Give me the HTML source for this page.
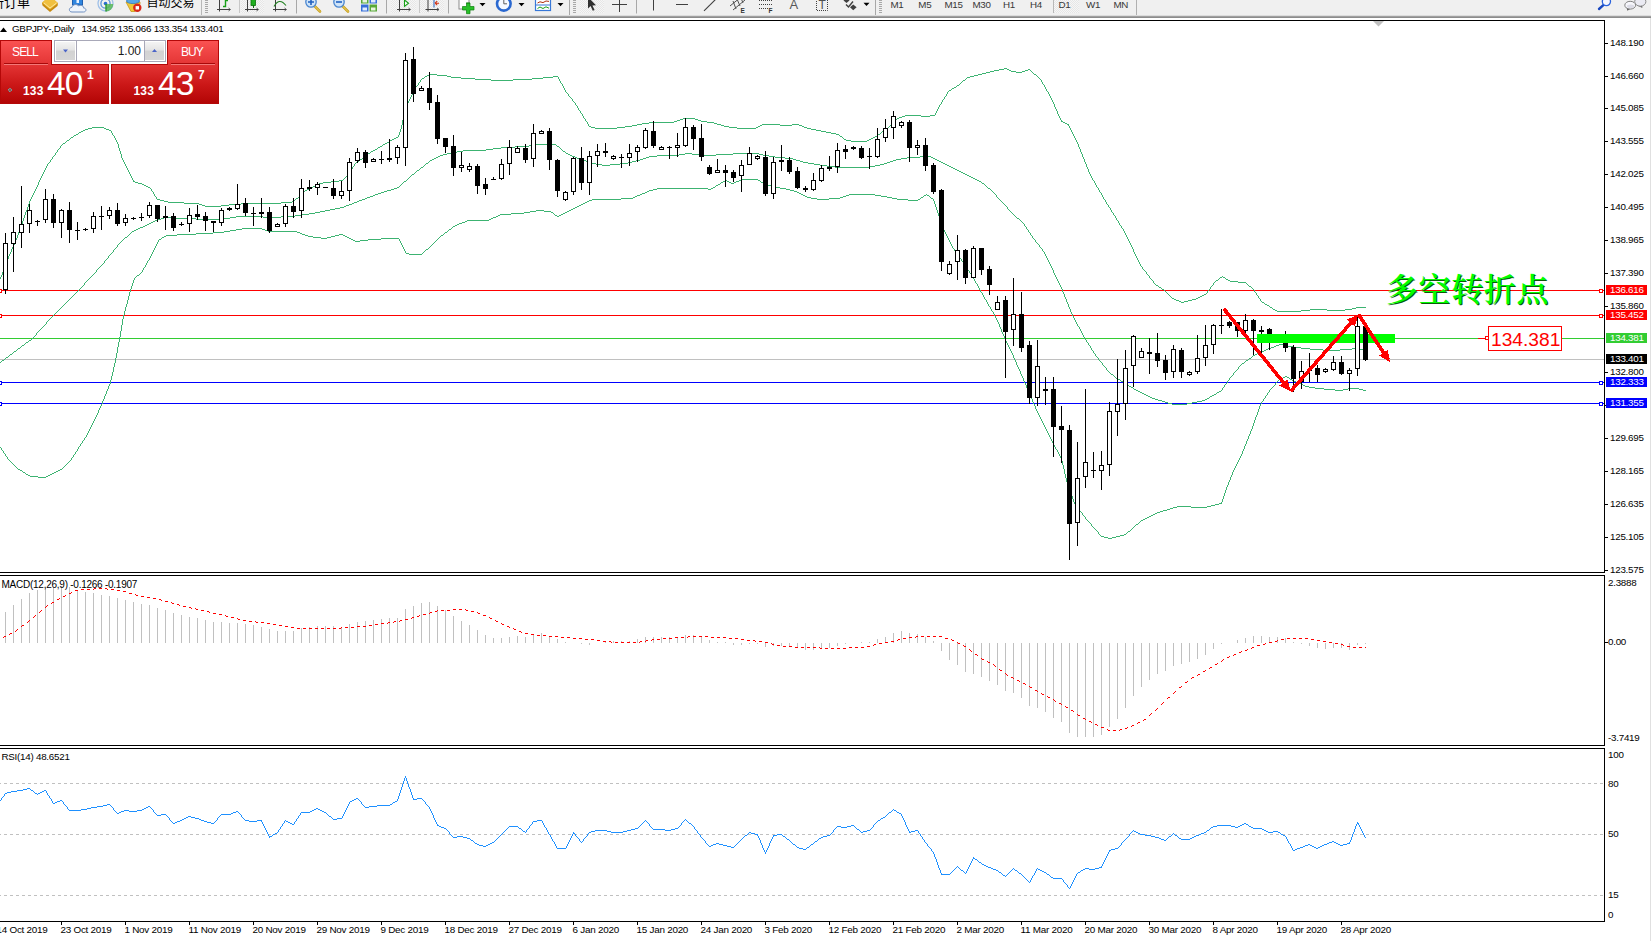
<!DOCTYPE html>
<html><head><meta charset="utf-8"><title>GBPJPY Daily</title>
<style>
html,body{margin:0;padding:0;background:#fff;overflow:hidden}
body{width:1651px;height:941px;position:relative;font-family:"Liberation Sans","Noto Sans CJK SC",sans-serif}
svg{position:absolute;left:0;top:0}
svg text{font-family:"Liberation Sans","Noto Sans CJK SC",sans-serif}
.ax{letter-spacing:-0.25px}
#tb{position:absolute;left:0;top:0;width:1651px;height:15px;background:#f0f0f0;overflow:hidden}
#tbl1{position:absolute;left:0;top:15px;width:1651px;height:3px;background:linear-gradient(#dcdcdc 0,#dcdcdc 33%,#a0a0a0 33%,#a0a0a0 67%,#8c8c8c 67%)}
#tbl2{position:absolute;left:1650px;top:18px;width:1px;height:923px;background:#e0e0e0}
#cn{position:absolute;left:1386px;top:267px;font-family:"Noto Serif CJK SC","Noto Sans CJK SC",serif;font-weight:600;font-size:32px;line-height:40px;color:#00ff00;text-shadow:1px 1px 0 #0a5a0a;white-space:nowrap;letter-spacing:0.6px}
#pn{position:absolute;left:0;top:40px;width:220px;height:65px}
#pn div{position:absolute;box-sizing:border-box}
.rt{background:linear-gradient(#fa5252,#e33434);border:1px solid #b40808;border-bottom:none;height:25px;top:0;width:52px;color:#fff;font-size:12px;letter-spacing:-0.9px;text-align:center;line-height:22px;text-indent:-2px}
.rb{background:linear-gradient(#e33434,#cc1818 50%,#b30505);border:1px solid #b40808;top:24px;height:40px;width:109px;color:#fff}
.ul{height:2px;top:23px;width:44px;background:linear-gradient(#a80808 50%,#f47878 50%)}
.s3{font-weight:bold;font-size:12px;top:20px;line-height:14px;letter-spacing:0.2px}
.bg{font-size:33.5px;top:2px;line-height:36px;letter-spacing:-1px}
.sp{font-weight:bold;font-size:12px;top:4px;line-height:14px}
#vol{left:54px;top:0;width:112px;height:22px;border:1px solid #a8a8b8;background:#fff}
.vb{top:1px;width:19px;height:18px;background:linear-gradient(#f4f4f4,#e4e4e4 45%,#d2d2d2 50%,#d6d6d6)}
.vs{top:0;width:1px;height:20px;background:#a8a8b8}
#vt{left:22px;top:0;width:64px;height:20px;text-align:right;font-size:12px;line-height:21px;color:#1a1a1a}

</style></head><body>
<svg width="1651" height="941" viewBox="0 0 1651 941" shape-rendering="crispEdges">
<rect x="0" y="359" width="1604" height="1" fill="#c0c0c0"/>
<rect x="0" y="290" width="1604" height="1" fill="#ff0000"/>
<rect x="0" y="315" width="1604" height="1" fill="#ff0000"/>
<rect x="0" y="338" width="1604" height="1" fill="#32cd32"/>
<rect x="0" y="382" width="1604" height="1" fill="#0000ff"/>
<rect x="0" y="403" width="1604" height="1" fill="#0000ff"/>
<path d="M412.5 93v2M1085.5 162v2M1086.5 164v3M398.5 135v2M1053.5 102v2M1126.5 235v2M1129.5 241v2M1050.5 96v2M1092.5 178v2M585.5 119v2M131.5 176v2M1096.5 185v2M403.5 115v5M3.5 269v3M559.5 79v2M1118.5 221v2M1042.5 82v2M120.5 151v3M23.5 218v3M406.5 106v2M30.5 199v2M127.5 168v2M1142.5 267v2M1106.5 202v2M27.5 207v3M401.5 125v4M2.5 272v3M1127.5 237v2M1051.5 98v2M1128.5 239v2M1052.5 100v2M405.5 108v3M1094.5 181v2M10.5 252v2M418.5 83v2M133.5 180v2M1058.5 114v2M1098.5 188v2M1135.5 254v2M1059.5 116v2M112.5 133v2M115.5 138v2M26.5 210v2M1116.5 218v2M1044.5 85v2M1041.5 80v2M34.5 191v2M46.5 166v2M119.5 148v3M1087.5 167v2M404.5 111v4M126.5 166v2M944.5 97v2M17.5 235v3M25.5 212v3M400.5 129v3M936.5 111v2M33.5 193v2M45.5 168v2M572.5 99v2M575.5 103v2M1136.5 256v2M1057.5 111v3M1133.5 249v3M29.5 201v3M1075.5 138v2M16.5 238v2M114.5 136v2M1082.5 154v3M124.5 162v2M935.5 113v2M44.5 170v2M20.5 227v2M1146.5 272v2M402.5 120v5M577.5 106v2M156.5 197v2M19.5 229v3M946.5 94v2M1080.5 149v3M1081.5 152v2M9.5 254v2M1213.5 283v2M583.5 116v2M587.5 122v2M1095.5 183v2M413.5 91v2M1149.5 276v2M6.5 261v3M37.5 185v2M50.5 160v2M941.5 102v2M1105.5 200v2M1108.5 205v2M5.5 264v3M13.5 245v2M408.5 101v2M1054.5 104v3M349.5 172v2M1068.5 124v2M1061.5 120v2M41.5 176v2M560.5 81v2M563.5 86v2M121.5 154v4M1046.5 89v2M12.5 247v2M407.5 103v3M352.5 167v2M1089.5 172v2M128.5 170v2M40.5 178v2M1110.5 208v2M1060.5 118v2M55.5 153v2M1153.5 281v2M1077.5 142v2M1074.5 136v2M116.5 140v2M1124.5 231v2M1084.5 159v3M1088.5 169v3M130.5 174v2M354.5 164v2M1137.5 258v2M1254.5 290v2M1076.5 140v2M1119.5 223v2M28.5 204v3M11.5 249v3M60.5 146v2M578.5 108v2M1256.5 293v2M1260.5 299v2M939.5 105v2M1056.5 109v2M18.5 232v3M414.5 89v2M588.5 124v2M1070.5 128v2M1210.5 287v2M1099.5 190v2M562.5 84v2M565.5 90v2M580.5 111v2M1130.5 243v2M1069.5 126v2M1101.5 193v2M4.5 267v2M1079.5 147v2M118.5 144v4M564.5 88v2M1083.5 157v2M1090.5 174v2M8.5 256v3M1111.5 210v2M36.5 187v2M1132.5 247v2M1139.5 262v2M1103.5 197v2M415.5 87v2M1078.5 144v3M117.5 142v2M411.5 95v2M35.5 189v2M1121.5 226v2M1045.5 87v2M1091.5 176v2M1113.5 213v2M22.5 221v3M1138.5 260v2M1258.5 296v2M1123.5 229v2M21.5 224v3M129.5 172v2M151.5 189v2M1072.5 132v2M111.5 131v2M1115.5 216v2M0.5 277v2M420.5 80v2M947.5 92v2M24.5 215v3M399.5 132v3M32.5 195v2M153.5 192v2M7.5 259v2M1071.5 130v2M942.5 100v2M15.5 240v2M938.5 107v2M47.5 164v2M123.5 160v2M31.5 197v2M43.5 172v2M409.5 99v2M14.5 242v3M558.5 77v2M937.5 109v2M1131.5 245v2M1055.5 107v2M42.5 174v2M1102.5 195v2M38.5 182v3M568.5 94v2M1.5 275v2M582.5 114v2M132.5 178v2M1140.5 264v2M1207.5 291v2M52.5 157v2M1125.5 233v2M1049.5 94v2M410.5 97v2M351.5 169v2M39.5 180v2M1048.5 92v2M1134.5 252v2M1073.5 134v2M125.5 164v2M122.5 158v2M57.5 150v2M154.5 194v2M184 203.5h15M241 203.5h40M148 187.5h2M311 187.5h2M1097 187.5h1M71 137.5h2M396 137.5h2M842 137.5h1M873 137.5h2M344 178.5h1M88 128.5h4M104 128.5h2M595 128.5h22M737 128.5h19M807 128.5h4M886 128.5h2M990 71.5h4M1011 71.5h5M1022 71.5h3M1031 71.5h1M146 186.5h2M313 186.5h2M424 77.5h1M451 77.5h10M543 77.5h10M967 77.5h3M1038 77.5h1M905 115.5h16M930 115.5h5M586 121.5h1M674 121.5h3M701 121.5h6M894 121.5h1M1062 121.5h1M421 79.5h1M475 79.5h16M513 79.5h19M965 79.5h1M1040 79.5h1M92 127.5h12M591 127.5h4M617 127.5h8M729 127.5h8M756 127.5h2M804 127.5h3M888 127.5h1M589 126.5h2M625 126.5h7M724 126.5h5M758 126.5h2M802 126.5h2M889 126.5h1M637 124.5h5M717 124.5h4M762 124.5h18M792 124.5h7M891 124.5h1M1067 124.5h1M948 91.5h1M1047 91.5h1M1275 310.5h2M1301 310.5h9M1327 310.5h18M76 134.5h2M836 134.5h3M878 134.5h2M380 146.5h2M429 74.5h8M978 74.5h4M1034 74.5h2M1220 277.5h2M1223 277.5h2M371 151.5h2M1277 311.5h24M339 180.5h4M1093 180.5h1M632 125.5h5M721 125.5h3M760 125.5h2M780 125.5h12M799 125.5h3M890 125.5h1M1151 279.5h1M1218 279.5h1M1226 279.5h2M205 206.5h16M649 122.5h25M707 122.5h7M893 122.5h1M1063 122.5h2M66 141.5h1M389 141.5h1M851 141.5h16M81 131.5h2M821 131.5h5M882 131.5h2M491 80.5h22M963 80.5h2M584 118.5h1M683 118.5h12M897 118.5h2M427 75.5h2M437 75.5h10M974 75.5h4M1036 75.5h1M419 82.5h1M961 82.5h1M69 139.5h1M392 139.5h2M844 139.5h2M869 139.5h2M986 72.5h4M1016 72.5h6M1032 72.5h1M899 117.5h3M422 78.5h2M461 78.5h14M532 78.5h11M966 78.5h1M1039 78.5h1M1273 309.5h2M1310 309.5h17M1345 309.5h7M567 93.5h1M1270 307.5h2M1356 307.5h10M1176 300.5h3M1188 300.5h4M1171 297.5h1M1198 297.5h2M67 140.5h2M390 140.5h2M846 140.5h5M867 140.5h2M168 202.5h16M281 202.5h11M642 123.5h7M714 123.5h3M892 123.5h1M1065 123.5h2M1214 282.5h1M1238 282.5h8M1158 286.5h1M1211 286.5h1M1249 286.5h2M303 192.5h1M1100 192.5h1M1179 301.5h2M1184 301.5h4M1261 301.5h1M1215 281.5h1M1230 281.5h8M142 184.5h2M317 184.5h2M160 200.5h4M294 200.5h1M1150 278.5h1M1219 278.5h1M1225 278.5h1M1267 305.5h2M1172 298.5h2M1196 298.5h2M1259 298.5h1M199 204.5h3M229 204.5h12M1107 204.5h1M79 132.5h2M826 132.5h5M881 132.5h1M164 201.5h4M292 201.5h2M680 119.5h3M695 119.5h3M896 119.5h1M85 129.5h3M106 129.5h3M811 129.5h5M885 129.5h1M425 76.5h2M447 76.5h4M553 76.5h5M970 76.5h4M1037 76.5h1M368 153.5h2M135 182.5h3M323 182.5h8M348 174.5h1M902 116.5h3M921 116.5h9M59 148.5h1M377 148.5h1M417 85.5h1M957 85.5h2M949 90.5h2M202 205.5h3M221 205.5h8M150 188.5h1M309 188.5h2M954 87.5h2M378 147.5h2M305 190.5h2M570 97.5h1M302 193.5h1M73 136.5h1M840 136.5h2M875 136.5h2M138 183.5h4M319 183.5h4M1154 283.5h1M1246 283.5h1M1272 308.5h1M1352 308.5h4M1161 288.5h1M1252 288.5h1M78 133.5h1M831 133.5h5M880 133.5h1M1156 285.5h2M1212 285.5h1M1248 285.5h1M83 130.5h2M109 130.5h2M816 130.5h5M884 130.5h1M1168 294.5h1M1204 294.5h2M56 152.5h1M370 152.5h1M70 138.5h1M394 138.5h2M843 138.5h1M871 138.5h2M1181 302.5h3M1262 302.5h2M677 120.5h3M698 120.5h3M895 120.5h1M962 81.5h1M1152 280.5h1M1216 280.5h2M1228 280.5h2M1114 215.5h1M48 163.5h1M355 163.5h1M1117 220.5h1M994 70.5h5M1009 70.5h2M1025 70.5h3M1030 70.5h1M359 160.5h1M296 198.5h2M982 73.5h4M1033 73.5h1M144 185.5h2M315 185.5h2M300 195.5h1M134 181.5h1M331 181.5h8M1167 293.5h1M1206 293.5h1M74 135.5h2M113 135.5h1M839 135.5h1M877 135.5h1M346 176.5h1M1109 207.5h1M1120 225.5h1M1141 266.5h1M573 101.5h1M416 86.5h1M956 86.5h1M1162 289.5h2M1209 289.5h1M1253 289.5h1M1174 299.5h2M1192 299.5h4M1166 292.5h1M1255 292.5h1M307 189.5h2M1169 295.5h1M1202 295.5h2M1257 295.5h1M63 143.5h2M385 143.5h2M1155 284.5h1M1247 284.5h1M999 69.5h5M1007 69.5h2M1028 69.5h2M561 83.5h1M960 83.5h1M952 88.5h2M49 162.5h1M356 162.5h2M1004 68.5h3M58 149.5h1M375 149.5h2M51 159.5h1M360 159.5h2M61 145.5h1M382 145.5h1M53 156.5h1M364 156.5h2M157 199.5h3M295 199.5h1M1104 199.5h1M152 191.5h1M304 191.5h1M1159 287.5h2M1251 287.5h1M1170 296.5h1M1200 296.5h2M1145 271.5h1M65 142.5h1M387 142.5h2M940 104.5h1M373 150.5h2M345 177.5h1M1264 303.5h1M571 98.5h1M1122 228.5h1M959 84.5h1M1043 84.5h1M1143 269.5h1M1265 304.5h2M1144 270.5h1M155 196.5h1M299 196.5h1M1164 290.5h1M1208 290.5h1M62 144.5h1M383 144.5h2M943 99.5h1M343 179.5h1M363 157.5h1M951 89.5h1M574 102.5h1M367 154.5h1M1147 274.5h1M1165 291.5h1M1222 276.5h1M566 92.5h1M301 194.5h1M54 155.5h1M366 155.5h1M347 175.5h1M581 113.5h1M350 171.5h1M1269 306.5h1M358 161.5h1M362 158.5h1M576 105.5h1M569 96.5h1M945 96.5h1M579 110.5h1M353 166.5h1M1148 275.5h1M298 197.5h1M1112 212.5h1" fill="none" stroke="#3cb371" stroke-width="1"/>
<path d="M1227.5 381v2M1088.5 343v2M1091.5 348v2M1238.5 367v2M1102.5 363v2M1062.5 289v3M1069.5 307v2M1076.5 322v2M117.5 245v2M1048.5 260v2M1079.5 327v2M1051.5 266v2M1080.5 329v2M1058.5 281v2M104.5 261v2M1039.5 245v2M1072.5 314v2M1086.5 340v2M1090.5 346v2M108.5 256v2M1049.5 262v2M1057.5 279v2M1064.5 294v3M1070.5 309v3M1042.5 249v2M1106.5 368v2M1055.5 275v2M1222.5 388v2M1065.5 297v2M1044.5 252v2M113.5 250v2M46.5 322v2M1053.5 270v3M1050.5 264v2M1082.5 333v2M1024.5 224v2M84.5 283v2M1224.5 385v2M1052.5 268v2M1059.5 283v2M1026.5 227v2M996.5 195v2M1061.5 287v2M1028.5 230v2M1071.5 312v2M1046.5 256v2M1066.5 299v3M1030.5 233v2M1073.5 316v2M1098.5 358v2M1007.5 207v2M1032.5 236v2M96.5 270v2M1081.5 331v2M1084.5 337v2M1068.5 304v3M1075.5 320v2M1229.5 378v2M1093.5 351v2M1060.5 285v2M1045.5 254v2M36.5 333v2M1054.5 273v2M1083.5 335v2M1233.5 373v2M1035.5 240v2M1063.5 292v2M1067.5 302v2M1077.5 324v2M1074.5 318v2M1095.5 354v2M1047.5 258v2M1056.5 277v2M394 188.5h3M988 188.5h2M440 155.5h3M570 155.5h2M657 155.5h22M704 155.5h12M763 155.5h6M35 335.5h1M55 313.5h1M161 218.5h3M176 218.5h20M224 218.5h6M1017 218.5h2M24 344.5h1M1279 344.5h4M236 216.5h27M281 216.5h14M1015 216.5h1M145 225.5h2M302 214.5h7M1013 214.5h1M406 180.5h1M977 180.5h2M425 164.5h1M596 164.5h6M610 164.5h10M814 164.5h6M880 164.5h4M945 164.5h2M447 153.5h4M566 153.5h2M685 153.5h7M733 153.5h26M17 349.5h1M1266 349.5h2M1310 349.5h13M1340 349.5h12M1358 349.5h5M164 217.5h12M230 217.5h6M263 217.5h18M1016 217.5h1M325 210.5h5M1009 210.5h1M6 357.5h2M1097 357.5h1M1251 357.5h1M501 147.5h14M559 147.5h1M426 163.5h2M592 163.5h4M620 163.5h8M808 163.5h6M884 163.5h3M943 163.5h2M9 355.5h1M1253 355.5h2M463 150.5h23M562 150.5h1M349 204.5h3M1004 204.5h1M52 316.5h1M404 181.5h2M979 181.5h2M409 177.5h1M971 177.5h2M414 173.5h1M963 173.5h2M1144 394.5h2M1214 394.5h2M67 301.5h1M18 348.5h2M1268 348.5h3M1301 348.5h9M1352 348.5h6M309 213.5h6M1012 213.5h1M378 193.5h3M994 193.5h1M424 165.5h1M602 165.5h8M820 165.5h7M875 165.5h5M947 165.5h2M387 190.5h4M991 190.5h1M16 350.5h1M1092 350.5h1M1264 350.5h2M1323 350.5h17M1363 350.5h3M119 243.5h1M1037 243.5h1M412 174.5h2M965 174.5h2M118 244.5h1M1038 244.5h1M1172 404.5h15M1128 385.5h1M158 219.5h3M196 219.5h28M1019 219.5h1M436 157.5h2M575 157.5h2M646 157.5h3M775 157.5h10M907 157.5h13M931 157.5h2M320 211.5h5M1010 211.5h1M384 191.5h3M992 191.5h1M140 227.5h3M428 162.5h1M589 162.5h3M628 162.5h4M803 162.5h5M887 162.5h3M941 162.5h2M1120 380.5h1M1228 380.5h1M20 347.5h1M1271 347.5h3M1294 347.5h7M32 338.5h1M457 151.5h6M563 151.5h2M125 237.5h2M443 154.5h4M568 154.5h2M679 154.5h6M692 154.5h12M716 154.5h17M759 154.5h4M1121 381.5h2M136 229.5h2M1027 229.5h1M421 167.5h2M835 167.5h35M951 167.5h2M434 158.5h2M577 158.5h3M643 158.5h3M785 158.5h8M901 158.5h6M933 158.5h2M438 156.5h2M572 156.5h3M649 156.5h8M769 156.5h6M920 156.5h11M106 259.5h1M26 342.5h2M1087 342.5h1M74 294.5h1M1148 396.5h2M1210 396.5h2M22 345.5h2M1089 345.5h1M1276 345.5h3M1283 345.5h5M10 354.5h2M1255 354.5h2M535 144.5h21M430 160.5h2M583 160.5h3M636 160.5h4M796 160.5h4M893 160.5h3M937 160.5h2M373 195.5h2M101 265.5h1M1152 398.5h3M1207 398.5h2M429 161.5h1M586 161.5h3M632 161.5h4M800 161.5h3M890 161.5h3M939 161.5h2M423 166.5h1M827 166.5h8M870 166.5h5M949 166.5h2M367 197.5h3M997 197.5h1M14 351.5h2M1261 351.5h3M432 159.5h2M580 159.5h3M640 159.5h3M793 159.5h3M896 159.5h5M935 159.5h2M335 208.5h5M86 281.5h1M132 231.5h2M21 346.5h1M1274 346.5h2M1288 346.5h6M81 287.5h1M50 318.5h1M1 361.5h1M1100 361.5h1M1245 361.5h1M315 212.5h5M1011 212.5h1M12 353.5h1M1094 353.5h1M1257 353.5h2M1158 400.5h4M1202 400.5h3M1124 383.5h2M1226 383.5h1M78 290.5h1M98 268.5h1M529 145.5h6M556 145.5h1M411 175.5h1M967 175.5h2M1146 395.5h2M1212 395.5h2M42 327.5h1M93 274.5h1M109 255.5h1M486 149.5h7M561 149.5h1M515 146.5h14M557 146.5h2M57 311.5h1M419 169.5h1M955 169.5h2M365 198.5h2M998 198.5h1M143 226.5h2M1025 226.5h1M408 178.5h1M973 178.5h2M1162 401.5h3M1197 401.5h5M116 247.5h1M1040 247.5h1M54 314.5h1M1242 363.5h2M1138 391.5h2M1219 391.5h2M1237 369.5h1M1155 399.5h3M1205 399.5h2M1111 374.5h2M295 215.5h7M1014 215.5h1M1140 392.5h2M1217 392.5h2M131 232.5h1M1029 232.5h1M359 200.5h3M1000 200.5h1M34 336.5h1M401 184.5h1M984 184.5h1M399 186.5h1M986 186.5h1M61 307.5h1M128 235.5h1M1031 235.5h1M493 148.5h8M560 148.5h1M2 360.5h2M1099 360.5h1M1246 360.5h2M451 152.5h6M565 152.5h1M8 356.5h1M1096 356.5h1M1252 356.5h1M43 326.5h1M1078 326.5h1M1126 384.5h2M1225 384.5h1M352 203.5h2M1003 203.5h1M88 279.5h1M68 300.5h1M420 168.5h1M953 168.5h2M83 285.5h1M1103 365.5h1M1240 365.5h1M103 263.5h1M1168 403.5h4M1187 403.5h5M4 359.5h1M1248 359.5h1M100 266.5h1M1142 393.5h2M1216 393.5h1M346 205.5h3M1005 205.5h1M95 272.5h1M59 309.5h1M29 340.5h2M340 207.5h4M115 248.5h1M1041 248.5h1M5 358.5h1M1249 358.5h2M381 192.5h3M993 192.5h1M153 221.5h2M1021 221.5h1M330 209.5h5M1008 209.5h1M1114 376.5h1M1231 376.5h1M63 305.5h1M370 196.5h3M130 233.5h1M31 339.5h1M1085 339.5h1M51 317.5h1M375 194.5h3M995 194.5h1M149 223.5h2M1023 223.5h1M1165 402.5h3M1192 402.5h5M70 298.5h1M110 254.5h1M85 282.5h1M121 241.5h1M1131 387.5h2M1223 387.5h1M151 222.5h2M1022 222.5h1M97 269.5h1M357 201.5h2M1001 201.5h1M362 199.5h3M999 199.5h1M407 179.5h1M975 179.5h2M89 278.5h1M410 176.5h1M969 176.5h2M415 172.5h1M961 172.5h2M77 291.5h1M147 224.5h2M1241 364.5h1M0 362.5h1M1101 362.5h1M1244 362.5h1M38 331.5h1M391 189.5h3M990 189.5h1M33 337.5h1M53 315.5h1M397 187.5h2M987 187.5h1M1115 377.5h1M1230 377.5h1M127 236.5h1M138 228.5h2M45 324.5h1M112 252.5h1M60 308.5h1M87 280.5h1M107 258.5h1M134 230.5h2M123 239.5h1M1034 239.5h1M344 206.5h2M1006 206.5h1M1136 390.5h2M1221 390.5h1M402 183.5h1M982 183.5h2M1110 373.5h1M1150 397.5h2M1209 397.5h1M1129 386.5h2M99 267.5h1M354 202.5h3M1002 202.5h1M13 352.5h1M1259 352.5h2M94 273.5h1M64 304.5h1M79 289.5h1M28 341.5h1M155 220.5h3M1020 220.5h1M91 276.5h1M416 171.5h1M959 171.5h2M400 185.5h1M985 185.5h1M122 240.5h1M1108 371.5h1M1235 371.5h1M47 321.5h1M114 249.5h1M62 306.5h1M129 234.5h1M120 242.5h1M1036 242.5h1M69 299.5h1M39 330.5h1M66 302.5h1M1134 389.5h2M1104 366.5h1M1239 366.5h1M1105 367.5h1M73 295.5h1M37 332.5h1M124 238.5h1M1033 238.5h1M80 288.5h1M49 319.5h1M1113 375.5h1M1232 375.5h1M417 170.5h2M957 170.5h2M44 325.5h1M111 253.5h1M1043 251.5h1M56 312.5h1M25 343.5h1M71 297.5h1M1116 378.5h2M1107 370.5h1M1236 370.5h1M1118 379.5h2M41 328.5h1M75 293.5h1M90 277.5h1M82 286.5h1M102 264.5h1M1109 372.5h1M1234 372.5h1M403 182.5h1M981 182.5h1M58 310.5h1M105 260.5h1M1123 382.5h1M65 303.5h1M92 275.5h1M72 296.5h1M48 320.5h1M76 292.5h1M1133 388.5h1M40 329.5h1" fill="none" stroke="#3cb371" stroke-width="1"/>
<path d="M1257.5 412v3M979.5 288v2M983.5 295v2M90.5 427v2M102.5 401v3M118.5 342v5M123.5 315v4M86.5 435v2M1261.5 402v2M110.5 380v4M971.5 274v2M975.5 281v2M127.5 300v4M114.5 363v4M1232.5 472v3M1244.5 446v3M942.5 224v3M119.5 337v5M1068.5 485v3M1021.5 374v2M1053.5 443v2M993.5 312v2M89.5 429v2M1050.5 437v2M101.5 404v2M949.5 240v2M131.5 286v3M1028.5 390v2M1000.5 327v2M1260.5 404v2M1061.5 458v3M122.5 319v6M1035.5 406v3M1064.5 469v5M113.5 367v5M1231.5 475v2M1043.5 423v2M1243.5 449v2M1046.5 429v2M1251.5 429v2M130.5 289v3M108.5 386v3M121.5 325v6M1259.5 406v3M937.5 210v3M153.5 250v2M75.5 452v2M1222.5 499v3M941.5 222v2M125.5 307v4M149.5 258v2M1067.5 482v3M1229.5 480v2M948.5 238v2M1241.5 454v2M1073.5 499v3M117.5 347v6M145.5 265v2M1250.5 431v3M1237.5 462v2M115.5 358v5M1060.5 456v2M1091.5 524v2M1008.5 345v2M1009.5 347v2M1044.5 425v2M1041.5 419v2M1016.5 362v3M1254.5 420v3M133.5 280v3M944.5 230v2M111.5 376v4M1023.5 378v3M1236.5 464v2M1030.5 395v2M157.5 242v2M936.5 207v3M1225.5 490v3M1065.5 474v4M1269.5 390v2M1037.5 411v2M1253.5 423v3M1265.5 396v2M132.5 283v3M98.5 410v3M1224.5 493v3M1223.5 496v3M77.5 449v2M1015.5 360v2M1022.5 376v2M1228.5 482v3M1240.5 456v2M1054.5 445v2M1085.5 517v2M963.5 262v2M1032.5 399v3M97.5 413v2M1029.5 392v3M80.5 444v2M105.5 394v2M1036.5 409v2M1039.5 415v2M1239.5 458v2M1247.5 439v2M974.5 279v2M92.5 423v2M938.5 213v3M104.5 396v3M991.5 309v2M1052.5 441v2M995.5 316v2M1002.5 332v2M120.5 331v6M1246.5 441v3M400.5 241v2M984.5 297v2M987.5 302v2M933.5 199v2M1098.5 532v2M1245.5 444v2M943.5 227v3M1069.5 488v3M950.5 242v2M1079.5 509v2M1011.5 351v2M986.5 300v2M1018.5 367v2M1047.5 431v2M1025.5 383v2M1256.5 415v2M93.5 421v2M952.5 246v2M1010.5 349v2M134.5 278v2M1045.5 427v2M1017.5 365v2M88.5 431v2M100.5 406v2M1024.5 381v2M84.5 438v2M1031.5 397v2M129.5 292v4M156.5 244v2M107.5 389v2M78.5 447v2M940.5 219v3M152.5 252v2M1252.5 426v3M124.5 311v4M997.5 320v2M1004.5 336v3M965.5 265v2M1040.5 417v2M399.5 239v2M402.5 245v2M151.5 254v2M73.5 455v2M1227.5 485v2M147.5 261v2M935.5 204v3M143.5 268v2M1235.5 466v2M1.5 448v2M978.5 286v2M1070.5 491v2M996.5 318v2M146.5 263v2M1057.5 450v2M1074.5 502v2M1226.5 487v3M1238.5 460v2M1063.5 465v4M1003.5 334v2M142.5 270v2M967.5 268v2M1275.5 383v2M1234.5 468v2M1038.5 413v2M1013.5 355v3M401.5 243v2M988.5 304v2M1020.5 371v3M87.5 433v2M1027.5 388v2M934.5 201v3M3.5 451v2M977.5 284v2M980.5 290v2M1233.5 470v2M1066.5 478v4M951.5 244v2M1076.5 505v2M954.5 249v2M82.5 441v2M969.5 271v2M1062.5 461v4M1012.5 353v2M990.5 307v2M1019.5 369v2M5.5 454v2M982.5 293v2M1082.5 513v2M1255.5 417v3M945.5 232v2M1263.5 399v2M999.5 324v3M158.5 240v2M1034.5 404v2M1006.5 341v2M7.5 457v2M404.5 249v2M1230.5 477v3M1242.5 451v3M99.5 408v2M116.5 353v5M1221.5 502v2M947.5 236v2M1072.5 496v3M1026.5 385v3M998.5 322v2M1055.5 447v2M1058.5 452v2M1249.5 434v2M1005.5 339v2M106.5 391v3M403.5 247v2M1248.5 436v3M939.5 216v3M1071.5 493v3M155.5 246v2M1014.5 358v2M126.5 304v3M1267.5 393v2M1049.5 435v2M96.5 415v2M154.5 248v2M112.5 372v4M150.5 256v2M95.5 417v2M973.5 277v2M1258.5 409v3M91.5 425v2M103.5 399v2M994.5 314v2M1048.5 433v2M1051.5 439v2M1001.5 329v3M128.5 296v4M1033.5 402v2M94.5 419v2M957.5 253v2M946.5 234v2M109.5 384v2M1007.5 343v2M1042.5 421v2M405.5 251v2M959.5 256v2M71.5 458v2M1059.5 454v2M961.5 259v2M633 197.5h2M807 197.5h4M840 197.5h3M887 197.5h5M921 197.5h2M930 197.5h1M1093 527.5h1M1133 527.5h1M720 183.5h1M731 183.5h3M763 183.5h2M621 198.5h12M811 198.5h6M829 198.5h11M892 198.5h5M920 198.5h1M931 198.5h2M1075 504.5h1M1215 504.5h4M587 201.5h2M657 188.5h51M711 188.5h2M780 188.5h6M459 223.5h3M467 220.5h22M1270 389.5h1M1324 389.5h11M1343 389.5h5M1359 389.5h4M1081 512.5h1M1157 512.5h3M640 194.5h2M801 194.5h2M849 194.5h26M926 194.5h1M166 235.5h11M305 235.5h3M335 235.5h4M343 235.5h2M441 235.5h2M2 450.5h1M224 231.5h6M268 231.5h29M447 231.5h1M162 237.5h2M313 237.5h8M327 237.5h4M347 237.5h2M439 237.5h1M230 230.5h6M265 230.5h3M448 230.5h1M1108 538.5h4M968 270.5h1M976 283.5h1M196 233.5h17M300 233.5h2M444 233.5h1M12 463.5h1M67 463.5h1M723 181.5h2M727 181.5h2M736 181.5h3M760 181.5h1M592 199.5h29M817 199.5h12M897 199.5h11M918 199.5h2M741 179.5h17M1276 382.5h1M1296 382.5h2M409 254.5h13M1077 507.5h1M1173 507.5h4M1191 507.5h16M1335 390.5h8M1363 390.5h3M1271 388.5h1M1315 388.5h9M1348 388.5h11M353 240.5h2M360 240.5h8M436 240.5h1M511 213.5h13M553 213.5h1M563 213.5h2M1163 510.5h4M236 229.5h6M262 229.5h3M449 229.5h2M649 190.5h4M790 190.5h4M524 212.5h6M551 212.5h2M565 212.5h2M161 238.5h1M321 238.5h6M349 238.5h2M381 238.5h18M438 238.5h1M159 239.5h2M351 239.5h2M368 239.5h13M437 239.5h1M718 184.5h2M765 184.5h2M1101 536.5h3M1116 536.5h4M452 227.5h1M1088 521.5h1M1140 521.5h1M1264 398.5h1M1278 380.5h1M1292 380.5h2M1078 508.5h1M1170 508.5h3M1177 506.5h14M1207 506.5h4M653 189.5h4M708 189.5h3M786 189.5h4M1219 503.5h2M989 306.5h1M637 195.5h3M803 195.5h2M846 195.5h3M875 195.5h6M924 195.5h2M927 195.5h2M434 242.5h1M583 203.5h2M635 196.5h2M805 196.5h2M843 196.5h3M881 196.5h6M923 196.5h1M929 196.5h1M242 228.5h20M451 228.5h1M1127 532.5h1M530 211.5h6M544 211.5h7M567 211.5h2M38 477.5h8M1301 384.5h2M6 456.5h1M500 214.5h11M554 214.5h1M561 214.5h2M177 234.5h19M302 234.5h3M339 234.5h4M443 234.5h1M355 241.5h5M435 241.5h1M1274 385.5h1M1303 385.5h2M135 277.5h1M30 476.5h8M46 476.5h2M136 276.5h1M972 276.5h1M23 472.5h2M54 472.5h2M1277 381.5h1M1294 381.5h2M13 464.5h1M66 464.5h1M139 274.5h1M213 232.5h11M297 232.5h3M445 232.5h2M498 215.5h2M555 215.5h2M559 215.5h2M1283 377.5h2M1287 377.5h2M536 210.5h8M569 210.5h2M1298 383.5h3M1279 379.5h2M1290 379.5h2M26 474.5h2M50 474.5h2M1096 530.5h1M1130 530.5h1M491 218.5h2M17 468.5h1M62 468.5h1M164 236.5h2M308 236.5h5M331 236.5h4M345 236.5h2M440 236.5h1M1097 531.5h1M1128 531.5h2M985 299.5h1M1080 511.5h1M1160 511.5h3M725 180.5h2M739 180.5h2M758 180.5h2M428 248.5h1M953 248.5h1M579 205.5h2M1095 529.5h1M1131 529.5h1M589 200.5h3M908 200.5h10M721 182.5h2M729 182.5h2M734 182.5h2M761 182.5h2M1272 387.5h1M1309 387.5h6M425 250.5h1M85 437.5h1M429 247.5h1M715 186.5h1M771 186.5h4M1089 522.5h1M1139 522.5h1M647 191.5h2M794 191.5h3M10 461.5h1M69 461.5h1M20 470.5h2M58 470.5h2M1104 537.5h4M1112 537.5h4M18 469.5h2M60 469.5h2M496 216.5h2M557 216.5h2M4 453.5h1M462 222.5h3M585 202.5h2M1167 509.5h3M1135 525.5h1M577 206.5h2M72 457.5h1M642 193.5h3M799 193.5h2M1099 534.5h1M1124 534.5h2M1100 535.5h1M1120 535.5h4M8 459.5h1M493 217.5h3M15 466.5h1M64 466.5h1M581 204.5h2M14 465.5h1M65 465.5h1M22 471.5h1M56 471.5h2M1092 526.5h1M1134 526.5h1M573 208.5h2M645 192.5h2M797 192.5h2M1136 524.5h2M1126 533.5h1M716 185.5h2M767 185.5h4M406 253.5h3M422 253.5h1M137 275.5h2M713 187.5h2M775 187.5h5M1153 514.5h2M431 245.5h1M465 221.5h2M424 251.5h1M955 251.5h1M79 446.5h1M489 219.5h2M1266 395.5h1M25 473.5h1M52 473.5h2M1211 505.5h4M28 475.5h2M48 475.5h2M141 272.5h1M1145 518.5h2M1084 516.5h1M1149 516.5h2M1262 401.5h1M1155 513.5h2M1281 378.5h2M1289 378.5h1M1273 386.5h1M1305 386.5h4M1285 376.5h2M457 224.5h2M575 207.5h2M958 255.5h1M1083 515.5h1M1151 515.5h2M144 267.5h1M966 267.5h1M962 261.5h1M1090 523.5h1M1138 523.5h1M148 260.5h1M453 226.5h2M571 209.5h2M9 460.5h1M70 460.5h1M1147 517.5h2M74 454.5h1M1086 519.5h1M1143 519.5h2M433 243.5h1M1094 528.5h1M1132 528.5h1M16 467.5h1M63 467.5h1M140 273.5h1M970 273.5h1M81 443.5h1M423 252.5h1M956 252.5h1M960 258.5h1M1268 392.5h1M964 264.5h1M455 225.5h2M11 462.5h1M68 462.5h1M1087 520.5h1M1141 520.5h2M1056 449.5h1M992 311.5h1M76 451.5h1M432 244.5h1M981 292.5h1M0 447.5h1M426 249.5h2M83 440.5h1M430 246.5h1" fill="none" stroke="#3cb371" stroke-width="1"/>
<rect x="-1.5" y="289.5" width="3" height="3" fill="#fff" stroke="#ff0000" stroke-width="1"/>
<rect x="1599.5" y="289.5" width="3" height="3" fill="#fff" stroke="#ff0000" stroke-width="1"/>
<rect x="-1.5" y="314.5" width="3" height="3" fill="#fff" stroke="#ff0000" stroke-width="1"/>
<rect x="1599.5" y="314.5" width="3" height="3" fill="#fff" stroke="#ff0000" stroke-width="1"/>
<rect x="-1.5" y="381.5" width="3" height="3" fill="#fff" stroke="#0000ff" stroke-width="1"/>
<rect x="1599.5" y="381.5" width="3" height="3" fill="#fff" stroke="#0000ff" stroke-width="1"/>
<rect x="-1.5" y="402.5" width="3" height="3" fill="#fff" stroke="#0000ff" stroke-width="1"/>
<rect x="1599.5" y="402.5" width="3" height="3" fill="#fff" stroke="#0000ff" stroke-width="1"/>
<rect x="5" y="233" width="1" height="61" fill="#000"/>
<rect x="3" y="243" width="5" height="47" fill="#000"/>
<rect x="4" y="244" width="3" height="45" fill="#fff"/>
<rect x="13" y="217" width="1" height="55" fill="#000"/>
<rect x="11" y="232" width="5" height="12" fill="#000"/>
<rect x="12" y="233" width="3" height="10" fill="#fff"/>
<rect x="21" y="186" width="1" height="62" fill="#000"/>
<rect x="19" y="224" width="5" height="9" fill="#000"/>
<rect x="20" y="225" width="3" height="7" fill="#fff"/>
<rect x="29" y="204" width="1" height="29" fill="#000"/>
<rect x="27" y="210" width="5" height="14" fill="#000"/>
<rect x="28" y="211" width="3" height="12" fill="#fff"/>
<rect x="37" y="220" width="1" height="6" fill="#000"/>
<rect x="35" y="221" width="5" height="1" fill="#000"/>
<rect x="45" y="189" width="1" height="34" fill="#000"/>
<rect x="43" y="199" width="5" height="21" fill="#000"/>
<rect x="44" y="200" width="3" height="19" fill="#fff"/>
<rect x="53" y="194" width="1" height="34" fill="#000"/>
<rect x="51" y="199" width="5" height="24" fill="#000"/>
<rect x="61" y="209" width="1" height="29" fill="#000"/>
<rect x="59" y="210" width="5" height="13" fill="#000"/>
<rect x="60" y="211" width="3" height="11" fill="#fff"/>
<rect x="69" y="202" width="1" height="41" fill="#000"/>
<rect x="67" y="210" width="5" height="20" fill="#000"/>
<rect x="77" y="222" width="1" height="18" fill="#000"/>
<rect x="75" y="230" width="5" height="1" fill="#000"/>
<rect x="85" y="228" width="1" height="3" fill="#000"/>
<rect x="83" y="229" width="5" height="1" fill="#000"/>
<rect x="93" y="212" width="1" height="21" fill="#000"/>
<rect x="91" y="216" width="5" height="13" fill="#000"/>
<rect x="92" y="217" width="3" height="11" fill="#fff"/>
<rect x="101" y="206" width="1" height="24" fill="#000"/>
<rect x="99" y="216" width="5" height="1" fill="#000"/>
<rect x="109" y="207" width="1" height="12" fill="#000"/>
<rect x="107" y="210" width="5" height="6" fill="#000"/>
<rect x="108" y="211" width="3" height="4" fill="#fff"/>
<rect x="117" y="203" width="1" height="23" fill="#000"/>
<rect x="115" y="210" width="5" height="14" fill="#000"/>
<rect x="125" y="214" width="1" height="12" fill="#000"/>
<rect x="123" y="218" width="5" height="5" fill="#000"/>
<rect x="124" y="219" width="3" height="3" fill="#fff"/>
<rect x="133" y="217" width="1" height="3" fill="#000"/>
<rect x="131" y="218" width="5" height="1" fill="#000"/>
<rect x="141" y="213" width="1" height="8" fill="#000"/>
<rect x="139" y="217" width="5" height="1" fill="#000"/>
<rect x="149" y="202" width="1" height="16" fill="#000"/>
<rect x="147" y="205" width="5" height="11" fill="#000"/>
<rect x="148" y="206" width="3" height="9" fill="#fff"/>
<rect x="157" y="205" width="1" height="17" fill="#000"/>
<rect x="155" y="205" width="5" height="14" fill="#000"/>
<rect x="165" y="206" width="1" height="24" fill="#000"/>
<rect x="163" y="216" width="5" height="2" fill="#000"/>
<rect x="173" y="213" width="1" height="18" fill="#000"/>
<rect x="171" y="216" width="5" height="12" fill="#000"/>
<rect x="181" y="222" width="1" height="4" fill="#000"/>
<rect x="179" y="224" width="5" height="1" fill="#000"/>
<rect x="189" y="208" width="1" height="24" fill="#000"/>
<rect x="187" y="215" width="5" height="9" fill="#000"/>
<rect x="188" y="216" width="3" height="7" fill="#fff"/>
<rect x="197" y="205" width="1" height="15" fill="#000"/>
<rect x="195" y="214" width="5" height="3" fill="#000"/>
<rect x="205" y="212" width="1" height="19" fill="#000"/>
<rect x="203" y="216" width="5" height="5" fill="#000"/>
<rect x="213" y="221" width="1" height="11" fill="#000"/>
<rect x="211" y="221" width="5" height="2" fill="#000"/>
<rect x="221" y="208" width="1" height="18" fill="#000"/>
<rect x="219" y="210" width="5" height="13" fill="#000"/>
<rect x="220" y="211" width="3" height="11" fill="#fff"/>
<rect x="229" y="207" width="1" height="4" fill="#000"/>
<rect x="227" y="208" width="5" height="2" fill="#000"/>
<rect x="237" y="184" width="1" height="26" fill="#000"/>
<rect x="235" y="204" width="5" height="5" fill="#000"/>
<rect x="236" y="205" width="3" height="3" fill="#fff"/>
<rect x="245" y="198" width="1" height="18" fill="#000"/>
<rect x="243" y="203" width="5" height="10" fill="#000"/>
<rect x="253" y="207" width="1" height="19" fill="#000"/>
<rect x="251" y="213" width="5" height="1" fill="#000"/>
<rect x="261" y="198" width="1" height="20" fill="#000"/>
<rect x="259" y="212" width="5" height="2" fill="#000"/>
<rect x="269" y="207" width="1" height="26" fill="#000"/>
<rect x="267" y="212" width="5" height="19" fill="#000"/>
<rect x="277" y="223" width="1" height="4" fill="#000"/>
<rect x="275" y="224" width="5" height="3" fill="#000"/>
<rect x="276" y="225" width="3" height="1" fill="#fff"/>
<rect x="285" y="204" width="1" height="23" fill="#000"/>
<rect x="283" y="206" width="5" height="18" fill="#000"/>
<rect x="284" y="207" width="3" height="16" fill="#fff"/>
<rect x="293" y="198" width="1" height="20" fill="#000"/>
<rect x="291" y="206" width="5" height="6" fill="#000"/>
<rect x="301" y="179" width="1" height="39" fill="#000"/>
<rect x="299" y="188" width="5" height="23" fill="#000"/>
<rect x="300" y="189" width="3" height="21" fill="#fff"/>
<rect x="309" y="180" width="1" height="11" fill="#000"/>
<rect x="307" y="187" width="5" height="2" fill="#000"/>
<rect x="317" y="182" width="1" height="13" fill="#000"/>
<rect x="315" y="184" width="5" height="4" fill="#000"/>
<rect x="316" y="185" width="3" height="2" fill="#fff"/>
<rect x="325" y="187" width="1" height="1" fill="#000"/>
<rect x="323" y="187" width="5" height="1" fill="#000"/>
<rect x="333" y="179" width="1" height="20" fill="#000"/>
<rect x="331" y="188" width="5" height="8" fill="#000"/>
<rect x="341" y="181" width="1" height="18" fill="#000"/>
<rect x="339" y="191" width="5" height="5" fill="#000"/>
<rect x="340" y="192" width="3" height="3" fill="#fff"/>
<rect x="349" y="158" width="1" height="43" fill="#000"/>
<rect x="347" y="162" width="5" height="29" fill="#000"/>
<rect x="348" y="163" width="3" height="27" fill="#fff"/>
<rect x="357" y="148" width="1" height="15" fill="#000"/>
<rect x="355" y="152" width="5" height="9" fill="#000"/>
<rect x="356" y="153" width="3" height="7" fill="#fff"/>
<rect x="365" y="150" width="1" height="18" fill="#000"/>
<rect x="363" y="152" width="5" height="11" fill="#000"/>
<rect x="373" y="158" width="1" height="4" fill="#000"/>
<rect x="371" y="159" width="5" height="3" fill="#000"/>
<rect x="372" y="160" width="3" height="1" fill="#fff"/>
<rect x="381" y="151" width="1" height="13" fill="#000"/>
<rect x="379" y="159" width="5" height="1" fill="#000"/>
<rect x="389" y="139" width="1" height="23" fill="#000"/>
<rect x="387" y="158" width="5" height="2" fill="#000"/>
<rect x="397" y="145" width="1" height="19" fill="#000"/>
<rect x="395" y="147" width="5" height="11" fill="#000"/>
<rect x="396" y="148" width="3" height="9" fill="#fff"/>
<rect x="405" y="53" width="1" height="113" fill="#000"/>
<rect x="403" y="60" width="5" height="88" fill="#000"/>
<rect x="404" y="61" width="3" height="86" fill="#fff"/>
<rect x="413" y="47" width="1" height="55" fill="#000"/>
<rect x="411" y="59" width="5" height="35" fill="#000"/>
<rect x="421" y="86" width="1" height="5" fill="#000"/>
<rect x="419" y="88" width="5" height="3" fill="#000"/>
<rect x="420" y="89" width="3" height="1" fill="#fff"/>
<rect x="429" y="72" width="1" height="38" fill="#000"/>
<rect x="427" y="88" width="5" height="15" fill="#000"/>
<rect x="437" y="95" width="1" height="49" fill="#000"/>
<rect x="435" y="102" width="5" height="37" fill="#000"/>
<rect x="445" y="138" width="1" height="15" fill="#000"/>
<rect x="443" y="138" width="5" height="9" fill="#000"/>
<rect x="453" y="135" width="1" height="41" fill="#000"/>
<rect x="451" y="146" width="5" height="22" fill="#000"/>
<rect x="461" y="152" width="1" height="20" fill="#000"/>
<rect x="459" y="165" width="5" height="3" fill="#000"/>
<rect x="460" y="166" width="3" height="1" fill="#fff"/>
<rect x="469" y="163" width="1" height="9" fill="#000"/>
<rect x="467" y="166" width="5" height="4" fill="#000"/>
<rect x="468" y="167" width="3" height="2" fill="#fff"/>
<rect x="477" y="164" width="1" height="30" fill="#000"/>
<rect x="475" y="166" width="5" height="20" fill="#000"/>
<rect x="485" y="178" width="1" height="17" fill="#000"/>
<rect x="483" y="184" width="5" height="5" fill="#000"/>
<rect x="493" y="177" width="1" height="3" fill="#000"/>
<rect x="491" y="179" width="5" height="1" fill="#000"/>
<rect x="501" y="159" width="1" height="21" fill="#000"/>
<rect x="499" y="164" width="5" height="15" fill="#000"/>
<rect x="500" y="165" width="3" height="13" fill="#fff"/>
<rect x="509" y="140" width="1" height="35" fill="#000"/>
<rect x="507" y="147" width="5" height="17" fill="#000"/>
<rect x="508" y="148" width="3" height="15" fill="#fff"/>
<rect x="517" y="146" width="1" height="7" fill="#000"/>
<rect x="515" y="148" width="5" height="5" fill="#000"/>
<rect x="516" y="149" width="3" height="3" fill="#fff"/>
<rect x="525" y="144" width="1" height="19" fill="#000"/>
<rect x="523" y="148" width="5" height="12" fill="#000"/>
<rect x="533" y="124" width="1" height="43" fill="#000"/>
<rect x="531" y="133" width="5" height="26" fill="#000"/>
<rect x="532" y="134" width="3" height="24" fill="#fff"/>
<rect x="541" y="130" width="1" height="4" fill="#000"/>
<rect x="539" y="131" width="5" height="3" fill="#000"/>
<rect x="540" y="132" width="3" height="1" fill="#fff"/>
<rect x="549" y="128" width="1" height="42" fill="#000"/>
<rect x="547" y="131" width="5" height="29" fill="#000"/>
<rect x="557" y="159" width="1" height="38" fill="#000"/>
<rect x="555" y="160" width="5" height="31" fill="#000"/>
<rect x="565" y="191" width="1" height="10" fill="#000"/>
<rect x="563" y="192" width="5" height="8" fill="#000"/>
<rect x="564" y="193" width="3" height="6" fill="#fff"/>
<rect x="573" y="157" width="1" height="38" fill="#000"/>
<rect x="571" y="158" width="5" height="34" fill="#000"/>
<rect x="572" y="159" width="3" height="32" fill="#fff"/>
<rect x="581" y="147" width="1" height="43" fill="#000"/>
<rect x="579" y="158" width="5" height="25" fill="#000"/>
<rect x="589" y="151" width="1" height="44" fill="#000"/>
<rect x="587" y="156" width="5" height="27" fill="#000"/>
<rect x="588" y="157" width="3" height="25" fill="#fff"/>
<rect x="597" y="144" width="1" height="23" fill="#000"/>
<rect x="595" y="151" width="5" height="5" fill="#000"/>
<rect x="596" y="152" width="3" height="3" fill="#fff"/>
<rect x="605" y="143" width="1" height="14" fill="#000"/>
<rect x="603" y="151" width="5" height="2" fill="#000"/>
<rect x="613" y="155" width="1" height="5" fill="#000"/>
<rect x="611" y="156" width="5" height="3" fill="#000"/>
<rect x="612" y="157" width="3" height="1" fill="#fff"/>
<rect x="621" y="154" width="1" height="14" fill="#000"/>
<rect x="619" y="157" width="5" height="1" fill="#000"/>
<rect x="629" y="144" width="1" height="22" fill="#000"/>
<rect x="627" y="153" width="5" height="5" fill="#000"/>
<rect x="628" y="154" width="3" height="3" fill="#fff"/>
<rect x="637" y="145" width="1" height="17" fill="#000"/>
<rect x="635" y="147" width="5" height="5" fill="#000"/>
<rect x="636" y="148" width="3" height="3" fill="#fff"/>
<rect x="645" y="128" width="1" height="21" fill="#000"/>
<rect x="643" y="130" width="5" height="18" fill="#000"/>
<rect x="644" y="131" width="3" height="16" fill="#fff"/>
<rect x="653" y="121" width="1" height="27" fill="#000"/>
<rect x="651" y="131" width="5" height="15" fill="#000"/>
<rect x="661" y="146" width="1" height="4" fill="#000"/>
<rect x="659" y="147" width="5" height="3" fill="#000"/>
<rect x="660" y="148" width="3" height="1" fill="#fff"/>
<rect x="669" y="146" width="1" height="13" fill="#000"/>
<rect x="667" y="147" width="5" height="1" fill="#000"/>
<rect x="677" y="133" width="1" height="24" fill="#000"/>
<rect x="675" y="145" width="5" height="3" fill="#000"/>
<rect x="676" y="146" width="3" height="1" fill="#fff"/>
<rect x="685" y="118" width="1" height="29" fill="#000"/>
<rect x="683" y="127" width="5" height="19" fill="#000"/>
<rect x="684" y="128" width="3" height="17" fill="#fff"/>
<rect x="693" y="125" width="1" height="25" fill="#000"/>
<rect x="691" y="127" width="5" height="12" fill="#000"/>
<rect x="701" y="124" width="1" height="37" fill="#000"/>
<rect x="699" y="138" width="5" height="19" fill="#000"/>
<rect x="709" y="165" width="1" height="10" fill="#000"/>
<rect x="707" y="167" width="5" height="7" fill="#000"/>
<rect x="717" y="159" width="1" height="14" fill="#000"/>
<rect x="715" y="170" width="5" height="3" fill="#000"/>
<rect x="716" y="171" width="3" height="1" fill="#fff"/>
<rect x="725" y="165" width="1" height="22" fill="#000"/>
<rect x="723" y="170" width="5" height="3" fill="#000"/>
<rect x="733" y="170" width="1" height="12" fill="#000"/>
<rect x="731" y="172" width="5" height="6" fill="#000"/>
<rect x="741" y="160" width="1" height="32" fill="#000"/>
<rect x="739" y="165" width="5" height="11" fill="#000"/>
<rect x="740" y="166" width="3" height="9" fill="#fff"/>
<rect x="749" y="147" width="1" height="18" fill="#000"/>
<rect x="747" y="153" width="5" height="12" fill="#000"/>
<rect x="748" y="154" width="3" height="10" fill="#fff"/>
<rect x="757" y="155" width="1" height="5" fill="#000"/>
<rect x="755" y="156" width="5" height="3" fill="#000"/>
<rect x="756" y="157" width="3" height="1" fill="#fff"/>
<rect x="765" y="151" width="1" height="45" fill="#000"/>
<rect x="763" y="157" width="5" height="37" fill="#000"/>
<rect x="773" y="157" width="1" height="42" fill="#000"/>
<rect x="771" y="162" width="5" height="32" fill="#000"/>
<rect x="772" y="163" width="3" height="30" fill="#fff"/>
<rect x="781" y="145" width="1" height="26" fill="#000"/>
<rect x="779" y="160" width="5" height="2" fill="#000"/>
<rect x="789" y="157" width="1" height="17" fill="#000"/>
<rect x="787" y="160" width="5" height="12" fill="#000"/>
<rect x="797" y="167" width="1" height="22" fill="#000"/>
<rect x="795" y="171" width="5" height="17" fill="#000"/>
<rect x="805" y="186" width="1" height="6" fill="#000"/>
<rect x="803" y="188" width="5" height="2" fill="#000"/>
<rect x="813" y="173" width="1" height="18" fill="#000"/>
<rect x="811" y="180" width="5" height="10" fill="#000"/>
<rect x="812" y="181" width="3" height="8" fill="#fff"/>
<rect x="821" y="165" width="1" height="17" fill="#000"/>
<rect x="819" y="168" width="5" height="13" fill="#000"/>
<rect x="820" y="169" width="3" height="11" fill="#fff"/>
<rect x="829" y="156" width="1" height="15" fill="#000"/>
<rect x="827" y="167" width="5" height="2" fill="#000"/>
<rect x="837" y="143" width="1" height="30" fill="#000"/>
<rect x="835" y="150" width="5" height="17" fill="#000"/>
<rect x="836" y="151" width="3" height="15" fill="#fff"/>
<rect x="845" y="145" width="1" height="14" fill="#000"/>
<rect x="843" y="149" width="5" height="3" fill="#000"/>
<rect x="853" y="146" width="1" height="4" fill="#000"/>
<rect x="851" y="147" width="5" height="2" fill="#000"/>
<rect x="861" y="146" width="1" height="13" fill="#000"/>
<rect x="859" y="148" width="5" height="10" fill="#000"/>
<rect x="869" y="148" width="1" height="21" fill="#000"/>
<rect x="867" y="156" width="5" height="1" fill="#000"/>
<rect x="877" y="128" width="1" height="30" fill="#000"/>
<rect x="875" y="139" width="5" height="18" fill="#000"/>
<rect x="876" y="140" width="3" height="16" fill="#fff"/>
<rect x="885" y="119" width="1" height="23" fill="#000"/>
<rect x="883" y="128" width="5" height="10" fill="#000"/>
<rect x="884" y="129" width="3" height="8" fill="#fff"/>
<rect x="893" y="111" width="1" height="28" fill="#000"/>
<rect x="891" y="116" width="5" height="12" fill="#000"/>
<rect x="892" y="117" width="3" height="10" fill="#fff"/>
<rect x="901" y="121" width="1" height="7" fill="#000"/>
<rect x="899" y="122" width="5" height="4" fill="#000"/>
<rect x="900" y="123" width="3" height="2" fill="#fff"/>
<rect x="909" y="120" width="1" height="42" fill="#000"/>
<rect x="907" y="122" width="5" height="26" fill="#000"/>
<rect x="917" y="140" width="1" height="15" fill="#000"/>
<rect x="915" y="145" width="5" height="3" fill="#000"/>
<rect x="916" y="146" width="3" height="1" fill="#fff"/>
<rect x="925" y="138" width="1" height="33" fill="#000"/>
<rect x="923" y="145" width="5" height="21" fill="#000"/>
<rect x="933" y="163" width="1" height="31" fill="#000"/>
<rect x="931" y="165" width="5" height="27" fill="#000"/>
<rect x="941" y="189" width="1" height="82" fill="#000"/>
<rect x="939" y="190" width="5" height="72" fill="#000"/>
<rect x="949" y="261" width="1" height="14" fill="#000"/>
<rect x="947" y="264" width="5" height="10" fill="#000"/>
<rect x="948" y="265" width="3" height="8" fill="#fff"/>
<rect x="957" y="235" width="1" height="45" fill="#000"/>
<rect x="955" y="250" width="5" height="12" fill="#000"/>
<rect x="956" y="251" width="3" height="10" fill="#fff"/>
<rect x="965" y="249" width="1" height="35" fill="#000"/>
<rect x="963" y="250" width="5" height="28" fill="#000"/>
<rect x="973" y="246" width="1" height="32" fill="#000"/>
<rect x="971" y="248" width="5" height="30" fill="#000"/>
<rect x="972" y="249" width="3" height="28" fill="#fff"/>
<rect x="981" y="248" width="1" height="27" fill="#000"/>
<rect x="979" y="248" width="5" height="22" fill="#000"/>
<rect x="989" y="266" width="1" height="29" fill="#000"/>
<rect x="987" y="269" width="5" height="16" fill="#000"/>
<rect x="997" y="296" width="1" height="14" fill="#000"/>
<rect x="995" y="302" width="5" height="8" fill="#000"/>
<rect x="996" y="303" width="3" height="6" fill="#fff"/>
<rect x="1005" y="296" width="1" height="82" fill="#000"/>
<rect x="1003" y="300" width="5" height="32" fill="#000"/>
<rect x="1013" y="278" width="1" height="68" fill="#000"/>
<rect x="1011" y="314" width="5" height="16" fill="#000"/>
<rect x="1012" y="315" width="3" height="14" fill="#fff"/>
<rect x="1021" y="292" width="1" height="60" fill="#000"/>
<rect x="1019" y="314" width="5" height="34" fill="#000"/>
<rect x="1029" y="341" width="1" height="63" fill="#000"/>
<rect x="1027" y="345" width="5" height="53" fill="#000"/>
<rect x="1037" y="340" width="1" height="66" fill="#000"/>
<rect x="1035" y="366" width="5" height="32" fill="#000"/>
<rect x="1036" y="367" width="3" height="30" fill="#fff"/>
<rect x="1045" y="377" width="1" height="28" fill="#000"/>
<rect x="1043" y="389" width="5" height="2" fill="#000"/>
<rect x="1053" y="377" width="1" height="80" fill="#000"/>
<rect x="1051" y="389" width="5" height="38" fill="#000"/>
<rect x="1061" y="406" width="1" height="57" fill="#000"/>
<rect x="1059" y="426" width="5" height="4" fill="#000"/>
<rect x="1069" y="425" width="1" height="135" fill="#000"/>
<rect x="1067" y="430" width="5" height="94" fill="#000"/>
<rect x="1077" y="442" width="1" height="104" fill="#000"/>
<rect x="1075" y="478" width="5" height="45" fill="#000"/>
<rect x="1076" y="479" width="3" height="43" fill="#fff"/>
<rect x="1085" y="389" width="1" height="99" fill="#000"/>
<rect x="1083" y="462" width="5" height="15" fill="#000"/>
<rect x="1084" y="463" width="3" height="13" fill="#fff"/>
<rect x="1093" y="452" width="1" height="26" fill="#000"/>
<rect x="1091" y="470" width="5" height="1" fill="#000"/>
<rect x="1101" y="451" width="1" height="39" fill="#000"/>
<rect x="1099" y="465" width="5" height="6" fill="#000"/>
<rect x="1100" y="466" width="3" height="4" fill="#fff"/>
<rect x="1109" y="402" width="1" height="74" fill="#000"/>
<rect x="1107" y="411" width="5" height="54" fill="#000"/>
<rect x="1108" y="412" width="3" height="52" fill="#fff"/>
<rect x="1117" y="359" width="1" height="77" fill="#000"/>
<rect x="1115" y="404" width="5" height="8" fill="#000"/>
<rect x="1116" y="405" width="3" height="6" fill="#fff"/>
<rect x="1125" y="350" width="1" height="70" fill="#000"/>
<rect x="1123" y="368" width="5" height="36" fill="#000"/>
<rect x="1124" y="369" width="3" height="34" fill="#fff"/>
<rect x="1133" y="335" width="1" height="52" fill="#000"/>
<rect x="1131" y="336" width="5" height="30" fill="#000"/>
<rect x="1132" y="337" width="3" height="28" fill="#fff"/>
<rect x="1141" y="348" width="1" height="10" fill="#000"/>
<rect x="1139" y="351" width="5" height="7" fill="#000"/>
<rect x="1140" y="352" width="3" height="5" fill="#fff"/>
<rect x="1149" y="338" width="1" height="36" fill="#000"/>
<rect x="1147" y="352" width="5" height="2" fill="#000"/>
<rect x="1157" y="333" width="1" height="34" fill="#000"/>
<rect x="1155" y="353" width="5" height="8" fill="#000"/>
<rect x="1165" y="355" width="1" height="25" fill="#000"/>
<rect x="1163" y="360" width="5" height="13" fill="#000"/>
<rect x="1173" y="345" width="1" height="33" fill="#000"/>
<rect x="1171" y="349" width="5" height="23" fill="#000"/>
<rect x="1172" y="350" width="3" height="21" fill="#fff"/>
<rect x="1181" y="348" width="1" height="30" fill="#000"/>
<rect x="1179" y="350" width="5" height="22" fill="#000"/>
<rect x="1189" y="371" width="1" height="5" fill="#000"/>
<rect x="1187" y="372" width="5" height="3" fill="#000"/>
<rect x="1188" y="373" width="3" height="1" fill="#fff"/>
<rect x="1197" y="335" width="1" height="39" fill="#000"/>
<rect x="1195" y="358" width="5" height="14" fill="#000"/>
<rect x="1196" y="359" width="3" height="12" fill="#fff"/>
<rect x="1205" y="325" width="1" height="41" fill="#000"/>
<rect x="1203" y="345" width="5" height="13" fill="#000"/>
<rect x="1204" y="346" width="3" height="11" fill="#fff"/>
<rect x="1213" y="324" width="1" height="30" fill="#000"/>
<rect x="1211" y="325" width="5" height="20" fill="#000"/>
<rect x="1212" y="326" width="3" height="18" fill="#fff"/>
<rect x="1221" y="309" width="1" height="25" fill="#000"/>
<rect x="1219" y="325" width="5" height="1" fill="#000"/>
<rect x="1229" y="321" width="1" height="7" fill="#000"/>
<rect x="1227" y="322" width="5" height="4" fill="#000"/>
<rect x="1237" y="322" width="1" height="15" fill="#000"/>
<rect x="1235" y="322" width="5" height="9" fill="#000"/>
<rect x="1245" y="314" width="1" height="19" fill="#000"/>
<rect x="1243" y="320" width="5" height="11" fill="#000"/>
<rect x="1244" y="321" width="3" height="9" fill="#fff"/>
<rect x="1253" y="319" width="1" height="36" fill="#000"/>
<rect x="1251" y="320" width="5" height="11" fill="#000"/>
<rect x="1261" y="326" width="1" height="27" fill="#000"/>
<rect x="1259" y="330" width="5" height="2" fill="#000"/>
<rect x="1269" y="328" width="1" height="22" fill="#000"/>
<rect x="1267" y="329" width="5" height="5" fill="#000"/>
<rect x="1275" y="338" width="5" height="1" fill="#000"/>
<rect x="1285" y="331" width="1" height="21" fill="#000"/>
<rect x="1283" y="335" width="5" height="13" fill="#000"/>
<rect x="1293" y="345" width="1" height="47" fill="#000"/>
<rect x="1291" y="347" width="5" height="32" fill="#000"/>
<rect x="1301" y="361" width="1" height="28" fill="#000"/>
<rect x="1299" y="371" width="5" height="11" fill="#000"/>
<rect x="1300" y="372" width="3" height="9" fill="#fff"/>
<rect x="1309" y="353" width="1" height="29" fill="#000"/>
<rect x="1307" y="369" width="5" height="2" fill="#000"/>
<rect x="1317" y="365" width="1" height="17" fill="#000"/>
<rect x="1315" y="368" width="5" height="7" fill="#000"/>
<rect x="1325" y="368" width="1" height="5" fill="#000"/>
<rect x="1323" y="369" width="5" height="3" fill="#000"/>
<rect x="1324" y="370" width="3" height="1" fill="#fff"/>
<rect x="1333" y="356" width="1" height="15" fill="#000"/>
<rect x="1331" y="362" width="5" height="8" fill="#000"/>
<rect x="1332" y="363" width="3" height="6" fill="#fff"/>
<rect x="1341" y="356" width="1" height="19" fill="#000"/>
<rect x="1339" y="362" width="5" height="12" fill="#000"/>
<rect x="1349" y="368" width="1" height="23" fill="#000"/>
<rect x="1347" y="370" width="5" height="4" fill="#000"/>
<rect x="1348" y="371" width="3" height="2" fill="#fff"/>
<rect x="1257" y="334" width="138" height="9" fill="#00ff00"/>
<rect x="1357" y="316" width="1" height="60" fill="#000"/>
<rect x="1355" y="326" width="5" height="43" fill="#000"/>
<rect x="1356" y="327" width="3" height="41" fill="#fff"/>
<rect x="1365" y="325" width="1" height="36" fill="#000"/>
<rect x="1363" y="326" width="5" height="34" fill="#000"/>
<line x1="1223.9" y1="308.9" x2="1288.7" y2="389.0" stroke="#ff0000" stroke-width="3.6"/>
<polygon points="1290.6,391.3 1279.3,385.6 1287.4,379.1" fill="#ff0000"/>
<line x1="1290.6" y1="391.3" x2="1356.4" y2="316.7" stroke="#ff0000" stroke-width="3.6"/>
<polygon points="1358.4,314.4 1354.7,326.5 1346.9,319.6" fill="#ff0000"/>
<line x1="1358.4" y1="314.4" x2="1388.2" y2="359.7" stroke="#ff0000" stroke-width="3.6"/>
<polygon points="1389.9,362.2 1379.2,355.5 1387.9,349.7" fill="#ff0000"/>
<rect x="1478" y="338" width="7" height="1" fill="#ff0000"/>
<rect x="1485.5" y="336.5" width="3" height="3" fill="#fff" stroke="#ff0000"/>
<rect x="1488.5" y="326.5" width="73" height="24" fill="#fff" stroke="#ff0000"/>
<text x="1491" y="345.5" font-size="19.2px" fill="#ff0000" shape-rendering="auto">134.381</text>
<polygon points="1373,21 1384,21 1378.5,26.5" fill="#c0c0c0" shape-rendering="auto"/>
<rect x="0" y="20" width="1605" height="1" fill="#000"/>
<rect x="1604" y="20" width="1" height="901" fill="#000"/>
<rect x="0" y="572" width="1605" height="1" fill="#000"/>
<rect x="0" y="575" width="1605" height="1" fill="#000"/>
<rect x="0" y="745" width="1605" height="1" fill="#000"/>
<rect x="0" y="748" width="1605" height="1" fill="#000"/>
<rect x="0" y="921" width="1605" height="1" fill="#000"/>
<rect x="1604" y="573" width="1" height="2" fill="#fff"/>
<rect x="1604" y="746" width="1" height="2" fill="#fff"/>
<rect x="1605" y="43" width="3" height="1" fill="#000"/>
<text x="1610" y="45.9" font-size="9.8px" fill="#000" class="ax">148.190</text>
<rect x="1605" y="76" width="3" height="1" fill="#000"/>
<text x="1610" y="78.9" font-size="9.8px" fill="#000" class="ax">146.660</text>
<rect x="1605" y="108" width="3" height="1" fill="#000"/>
<text x="1610" y="110.9" font-size="9.8px" fill="#000" class="ax">145.085</text>
<rect x="1605" y="141" width="3" height="1" fill="#000"/>
<text x="1610" y="143.9" font-size="9.8px" fill="#000" class="ax">143.555</text>
<rect x="1605" y="174" width="3" height="1" fill="#000"/>
<text x="1610" y="176.9" font-size="9.8px" fill="#000" class="ax">142.025</text>
<rect x="1605" y="207" width="3" height="1" fill="#000"/>
<text x="1610" y="209.9" font-size="9.8px" fill="#000" class="ax">140.495</text>
<rect x="1605" y="240" width="3" height="1" fill="#000"/>
<text x="1610" y="242.9" font-size="9.8px" fill="#000" class="ax">138.965</text>
<rect x="1605" y="273" width="3" height="1" fill="#000"/>
<text x="1610" y="275.9" font-size="9.8px" fill="#000" class="ax">137.390</text>
<rect x="1605" y="306" width="3" height="1" fill="#000"/>
<text x="1610" y="308.9" font-size="9.8px" fill="#000" class="ax">135.860</text>
<rect x="1605" y="372" width="3" height="1" fill="#000"/>
<text x="1610" y="374.9" font-size="9.8px" fill="#000" class="ax">132.800</text>
<rect x="1605" y="405" width="3" height="1" fill="#000"/>
<text x="1610" y="407.9" font-size="9.8px" fill="#000" class="ax">131.270</text>
<rect x="1605" y="438" width="3" height="1" fill="#000"/>
<text x="1610" y="440.9" font-size="9.8px" fill="#000" class="ax">129.695</text>
<rect x="1605" y="471" width="3" height="1" fill="#000"/>
<text x="1610" y="473.9" font-size="9.8px" fill="#000" class="ax">128.165</text>
<rect x="1605" y="504" width="3" height="1" fill="#000"/>
<text x="1610" y="506.9" font-size="9.8px" fill="#000" class="ax">126.635</text>
<rect x="1605" y="537" width="3" height="1" fill="#000"/>
<text x="1610" y="539.9" font-size="9.8px" fill="#000" class="ax">125.105</text>
<rect x="1605" y="570" width="3" height="1" fill="#000"/>
<text x="1610" y="572.9" font-size="9.8px" fill="#000" class="ax">123.575</text>
<rect x="1606" y="285" width="41" height="10" fill="#ff0000"/>
<text x="1610" y="292.9" font-size="9.8px" fill="#fff" class="ax">136.616</text>
<rect x="1606" y="310" width="41" height="10" fill="#ff0000"/>
<text x="1610" y="317.9" font-size="9.8px" fill="#fff" class="ax">135.452</text>
<rect x="1606" y="333" width="41" height="10" fill="#32cd32"/>
<text x="1610" y="340.9" font-size="9.8px" fill="#fff" class="ax">134.381</text>
<rect x="1606" y="354" width="41" height="10" fill="#000"/>
<text x="1610" y="361.9" font-size="9.8px" fill="#fff" class="ax">133.401</text>
<rect x="1606" y="377" width="41" height="10" fill="#0000ff"/>
<text x="1610" y="384.9" font-size="9.8px" fill="#fff" class="ax">132.333</text>
<rect x="1606" y="398" width="41" height="10" fill="#0000ff"/>
<text x="1610" y="405.9" font-size="9.8px" fill="#fff" class="ax">131.355</text>
<rect x="5" y="612" width="1" height="31" fill="#c0c0c0"/>
<rect x="13" y="605" width="1" height="38" fill="#c0c0c0"/>
<rect x="21" y="599" width="1" height="44" fill="#c0c0c0"/>
<rect x="29" y="593" width="1" height="50" fill="#c0c0c0"/>
<rect x="37" y="590" width="1" height="53" fill="#c0c0c0"/>
<rect x="45" y="588" width="1" height="55" fill="#c0c0c0"/>
<rect x="53" y="587" width="1" height="56" fill="#c0c0c0"/>
<rect x="61" y="586" width="1" height="57" fill="#c0c0c0"/>
<rect x="69" y="587" width="1" height="56" fill="#c0c0c0"/>
<rect x="77" y="590" width="1" height="53" fill="#c0c0c0"/>
<rect x="85" y="592" width="1" height="51" fill="#c0c0c0"/>
<rect x="93" y="593" width="1" height="50" fill="#c0c0c0"/>
<rect x="101" y="595" width="1" height="48" fill="#c0c0c0"/>
<rect x="109" y="596" width="1" height="47" fill="#c0c0c0"/>
<rect x="117" y="598" width="1" height="45" fill="#c0c0c0"/>
<rect x="125" y="600" width="1" height="43" fill="#c0c0c0"/>
<rect x="133" y="602" width="1" height="41" fill="#c0c0c0"/>
<rect x="141" y="604" width="1" height="39" fill="#c0c0c0"/>
<rect x="149" y="605" width="1" height="38" fill="#c0c0c0"/>
<rect x="157" y="608" width="1" height="35" fill="#c0c0c0"/>
<rect x="165" y="610" width="1" height="33" fill="#c0c0c0"/>
<rect x="173" y="613" width="1" height="30" fill="#c0c0c0"/>
<rect x="181" y="615" width="1" height="28" fill="#c0c0c0"/>
<rect x="189" y="617" width="1" height="26" fill="#c0c0c0"/>
<rect x="197" y="618" width="1" height="25" fill="#c0c0c0"/>
<rect x="205" y="620" width="1" height="23" fill="#c0c0c0"/>
<rect x="213" y="622" width="1" height="21" fill="#c0c0c0"/>
<rect x="221" y="622" width="1" height="21" fill="#c0c0c0"/>
<rect x="229" y="623" width="1" height="20" fill="#c0c0c0"/>
<rect x="237" y="623" width="1" height="20" fill="#c0c0c0"/>
<rect x="245" y="624" width="1" height="19" fill="#c0c0c0"/>
<rect x="253" y="625" width="1" height="18" fill="#c0c0c0"/>
<rect x="261" y="627" width="1" height="16" fill="#c0c0c0"/>
<rect x="269" y="629" width="1" height="14" fill="#c0c0c0"/>
<rect x="277" y="631" width="1" height="12" fill="#c0c0c0"/>
<rect x="285" y="631" width="1" height="12" fill="#c0c0c0"/>
<rect x="293" y="631" width="1" height="12" fill="#c0c0c0"/>
<rect x="301" y="628" width="1" height="15" fill="#c0c0c0"/>
<rect x="309" y="627" width="1" height="16" fill="#c0c0c0"/>
<rect x="317" y="626" width="1" height="17" fill="#c0c0c0"/>
<rect x="325" y="626" width="1" height="17" fill="#c0c0c0"/>
<rect x="333" y="626" width="1" height="17" fill="#c0c0c0"/>
<rect x="341" y="627" width="1" height="16" fill="#c0c0c0"/>
<rect x="349" y="624" width="1" height="19" fill="#c0c0c0"/>
<rect x="357" y="622" width="1" height="21" fill="#c0c0c0"/>
<rect x="365" y="621" width="1" height="22" fill="#c0c0c0"/>
<rect x="373" y="620" width="1" height="23" fill="#c0c0c0"/>
<rect x="381" y="619" width="1" height="24" fill="#c0c0c0"/>
<rect x="389" y="618" width="1" height="25" fill="#c0c0c0"/>
<rect x="397" y="618" width="1" height="25" fill="#c0c0c0"/>
<rect x="405" y="609" width="1" height="34" fill="#c0c0c0"/>
<rect x="413" y="606" width="1" height="37" fill="#c0c0c0"/>
<rect x="421" y="603" width="1" height="40" fill="#c0c0c0"/>
<rect x="429" y="602" width="1" height="41" fill="#c0c0c0"/>
<rect x="437" y="606" width="1" height="37" fill="#c0c0c0"/>
<rect x="445" y="610" width="1" height="33" fill="#c0c0c0"/>
<rect x="453" y="616" width="1" height="27" fill="#c0c0c0"/>
<rect x="461" y="621" width="1" height="22" fill="#c0c0c0"/>
<rect x="469" y="625" width="1" height="18" fill="#c0c0c0"/>
<rect x="477" y="630" width="1" height="13" fill="#c0c0c0"/>
<rect x="485" y="635" width="1" height="8" fill="#c0c0c0"/>
<rect x="493" y="638" width="1" height="5" fill="#c0c0c0"/>
<rect x="501" y="638" width="1" height="5" fill="#c0c0c0"/>
<rect x="509" y="637" width="1" height="6" fill="#c0c0c0"/>
<rect x="517" y="636" width="1" height="7" fill="#c0c0c0"/>
<rect x="525" y="637" width="1" height="6" fill="#c0c0c0"/>
<rect x="533" y="634" width="1" height="9" fill="#c0c0c0"/>
<rect x="541" y="633" width="1" height="10" fill="#c0c0c0"/>
<rect x="549" y="636" width="1" height="7" fill="#c0c0c0"/>
<rect x="557" y="639" width="1" height="4" fill="#c0c0c0"/>
<rect x="565" y="642" width="1" height="1" fill="#c0c0c0"/>
<rect x="581" y="643" width="1" height="1" fill="#c0c0c0"/>
<rect x="589" y="643" width="1" height="2" fill="#c0c0c0"/>
<rect x="605" y="641" width="1" height="2" fill="#c0c0c0"/>
<rect x="613" y="641" width="1" height="2" fill="#c0c0c0"/>
<rect x="621" y="641" width="1" height="2" fill="#c0c0c0"/>
<rect x="629" y="641" width="1" height="2" fill="#c0c0c0"/>
<rect x="637" y="639" width="1" height="4" fill="#c0c0c0"/>
<rect x="645" y="637" width="1" height="6" fill="#c0c0c0"/>
<rect x="653" y="637" width="1" height="6" fill="#c0c0c0"/>
<rect x="661" y="637" width="1" height="6" fill="#c0c0c0"/>
<rect x="669" y="637" width="1" height="6" fill="#c0c0c0"/>
<rect x="677" y="637" width="1" height="6" fill="#c0c0c0"/>
<rect x="685" y="635" width="1" height="8" fill="#c0c0c0"/>
<rect x="693" y="635" width="1" height="8" fill="#c0c0c0"/>
<rect x="701" y="637" width="1" height="6" fill="#c0c0c0"/>
<rect x="709" y="640" width="1" height="3" fill="#c0c0c0"/>
<rect x="717" y="642" width="1" height="1" fill="#c0c0c0"/>
<rect x="725" y="642" width="1" height="1" fill="#c0c0c0"/>
<rect x="733" y="643" width="1" height="2" fill="#c0c0c0"/>
<rect x="741" y="643" width="1" height="2" fill="#c0c0c0"/>
<rect x="749" y="643" width="1" height="1" fill="#c0c0c0"/>
<rect x="757" y="643" width="1" height="1" fill="#c0c0c0"/>
<rect x="765" y="643" width="1" height="4" fill="#c0c0c0"/>
<rect x="773" y="643" width="1" height="3" fill="#c0c0c0"/>
<rect x="781" y="643" width="1" height="3" fill="#c0c0c0"/>
<rect x="789" y="643" width="1" height="3" fill="#c0c0c0"/>
<rect x="797" y="643" width="1" height="5" fill="#c0c0c0"/>
<rect x="805" y="643" width="1" height="7" fill="#c0c0c0"/>
<rect x="813" y="643" width="1" height="7" fill="#c0c0c0"/>
<rect x="821" y="643" width="1" height="5" fill="#c0c0c0"/>
<rect x="829" y="643" width="1" height="5" fill="#c0c0c0"/>
<rect x="837" y="643" width="1" height="3" fill="#c0c0c0"/>
<rect x="845" y="643" width="1" height="1" fill="#c0c0c0"/>
<rect x="861" y="642" width="1" height="1" fill="#c0c0c0"/>
<rect x="869" y="642" width="1" height="1" fill="#c0c0c0"/>
<rect x="877" y="639" width="1" height="4" fill="#c0c0c0"/>
<rect x="885" y="637" width="1" height="6" fill="#c0c0c0"/>
<rect x="893" y="633" width="1" height="10" fill="#c0c0c0"/>
<rect x="901" y="631" width="1" height="12" fill="#c0c0c0"/>
<rect x="909" y="633" width="1" height="10" fill="#c0c0c0"/>
<rect x="917" y="634" width="1" height="9" fill="#c0c0c0"/>
<rect x="925" y="637" width="1" height="6" fill="#c0c0c0"/>
<rect x="933" y="641" width="1" height="2" fill="#c0c0c0"/>
<rect x="941" y="643" width="1" height="8" fill="#c0c0c0"/>
<rect x="949" y="643" width="1" height="17" fill="#c0c0c0"/>
<rect x="957" y="643" width="1" height="22" fill="#c0c0c0"/>
<rect x="965" y="643" width="1" height="29" fill="#c0c0c0"/>
<rect x="973" y="643" width="1" height="31" fill="#c0c0c0"/>
<rect x="981" y="643" width="1" height="34" fill="#c0c0c0"/>
<rect x="989" y="643" width="1" height="38" fill="#c0c0c0"/>
<rect x="997" y="643" width="1" height="42" fill="#c0c0c0"/>
<rect x="1005" y="643" width="1" height="48" fill="#c0c0c0"/>
<rect x="1013" y="643" width="1" height="50" fill="#c0c0c0"/>
<rect x="1021" y="643" width="1" height="55" fill="#c0c0c0"/>
<rect x="1029" y="643" width="1" height="63" fill="#c0c0c0"/>
<rect x="1037" y="643" width="1" height="65" fill="#c0c0c0"/>
<rect x="1045" y="643" width="1" height="69" fill="#c0c0c0"/>
<rect x="1053" y="643" width="1" height="75" fill="#c0c0c0"/>
<rect x="1061" y="643" width="1" height="79" fill="#c0c0c0"/>
<rect x="1069" y="643" width="1" height="90" fill="#c0c0c0"/>
<rect x="1077" y="643" width="1" height="94" fill="#c0c0c0"/>
<rect x="1085" y="643" width="1" height="94" fill="#c0c0c0"/>
<rect x="1093" y="643" width="1" height="94" fill="#c0c0c0"/>
<rect x="1101" y="643" width="1" height="92" fill="#c0c0c0"/>
<rect x="1109" y="643" width="1" height="84" fill="#c0c0c0"/>
<rect x="1117" y="643" width="1" height="76" fill="#c0c0c0"/>
<rect x="1125" y="643" width="1" height="65" fill="#c0c0c0"/>
<rect x="1133" y="643" width="1" height="53" fill="#c0c0c0"/>
<rect x="1141" y="643" width="1" height="44" fill="#c0c0c0"/>
<rect x="1149" y="643" width="1" height="37" fill="#c0c0c0"/>
<rect x="1157" y="643" width="1" height="31" fill="#c0c0c0"/>
<rect x="1165" y="643" width="1" height="28" fill="#c0c0c0"/>
<rect x="1173" y="643" width="1" height="23" fill="#c0c0c0"/>
<rect x="1181" y="643" width="1" height="21" fill="#c0c0c0"/>
<rect x="1189" y="643" width="1" height="19" fill="#c0c0c0"/>
<rect x="1197" y="643" width="1" height="16" fill="#c0c0c0"/>
<rect x="1205" y="643" width="1" height="12" fill="#c0c0c0"/>
<rect x="1213" y="643" width="1" height="6" fill="#c0c0c0"/>
<rect x="1221" y="643" width="1" height="1" fill="#c0c0c0"/>
<rect x="1237" y="640" width="1" height="3" fill="#c0c0c0"/>
<rect x="1245" y="638" width="1" height="5" fill="#c0c0c0"/>
<rect x="1253" y="636" width="1" height="7" fill="#c0c0c0"/>
<rect x="1261" y="636" width="1" height="7" fill="#c0c0c0"/>
<rect x="1269" y="637" width="1" height="6" fill="#c0c0c0"/>
<rect x="1277" y="637" width="1" height="6" fill="#c0c0c0"/>
<rect x="1285" y="638" width="1" height="5" fill="#c0c0c0"/>
<rect x="1293" y="642" width="1" height="1" fill="#c0c0c0"/>
<rect x="1301" y="643" width="1" height="1" fill="#c0c0c0"/>
<rect x="1309" y="643" width="1" height="3" fill="#c0c0c0"/>
<rect x="1317" y="643" width="1" height="5" fill="#c0c0c0"/>
<rect x="1325" y="643" width="1" height="6" fill="#c0c0c0"/>
<rect x="1333" y="643" width="1" height="5" fill="#c0c0c0"/>
<rect x="1341" y="643" width="1" height="5" fill="#c0c0c0"/>
<rect x="1349" y="643" width="1" height="7" fill="#c0c0c0"/>
<rect x="1357" y="643" width="1" height="2" fill="#c0c0c0"/>
<rect x="1365" y="643" width="1" height="1" fill="#c0c0c0"/>
<path d="M4 636.5h2M549 636.5h3M555 636.5h3M688 636.5h2M693 636.5h3M699 636.5h3M705 636.5h3M916 636.5h2M921 636.5h3M927 636.5h3M933 636.5h3M939 636.5h3M783 646.5h3M789 646.5h3M867 646.5h3M964 646.5h2M1347 646.5h3M41 610.5h1M201 610.5h3M437 610.5h1M441 610.5h3M447 610.5h3M466 610.5h2M40 611.5h1M207 611.5h2M435 611.5h2M471 611.5h3M982 659.5h2M1223 659.5h1M273 624.5h3M375 624.5h3M502 624.5h2M993 664.5h1M1215 664.5h2M27 622.5h1M256 622.5h2M261 622.5h3M388 622.5h2M393 622.5h1M22 625.5h2M279 625.5h3M369 625.5h3M81 589.5h3M87 589.5h3M93 589.5h1M107 589.5h1M111 589.5h3M297 628.5h3M303 628.5h3M309 628.5h3M315 628.5h3M321 628.5h3M327 628.5h3M333 628.5h3M339 628.5h2M513 628.5h1M267 623.5h3M381 623.5h3M387 623.5h1M501 623.5h1M219 614.5h3M423 614.5h3M3 637.5h1M561 637.5h3M567 637.5h3M675 637.5h3M681 637.5h3M687 637.5h1M711 637.5h3M717 637.5h3M723 637.5h3M909 637.5h3M915 637.5h1M237 618.5h1M411 618.5h1M490 618.5h2M573 638.5h3M579 638.5h3M663 638.5h3M669 638.5h3M729 638.5h3M735 638.5h3M903 638.5h3M945 638.5h3M1287 638.5h3M1293 638.5h3M1299 638.5h3M1305 638.5h3M777 645.5h3M873 645.5h1M963 645.5h1M1257 645.5h3M1343 645.5h1M795 647.5h3M801 647.5h3M807 647.5h3M813 647.5h3M819 647.5h1M849 647.5h3M855 647.5h3M861 647.5h3M1252 647.5h2M1353 647.5h3M1359 647.5h3M1365 647.5h1M820 648.5h2M825 648.5h3M831 648.5h3M837 648.5h3M843 648.5h3M1251 648.5h1M603 641.5h3M609 641.5h2M640 641.5h2M645 641.5h1M755 641.5h1M759 641.5h3M891 641.5h3M1275 641.5h2M1323 641.5h3M1227 657.5h2M611 642.5h1M615 642.5h3M621 642.5h3M627 642.5h3M633 642.5h3M639 642.5h1M765 642.5h3M885 642.5h3M957 642.5h1M1269 642.5h3M1329 642.5h3M772 644.5h2M874 644.5h2M1263 644.5h2M1341 644.5h2M597 640.5h3M646 640.5h2M651 640.5h1M747 640.5h3M753 640.5h2M897 640.5h1M952 640.5h2M1277 640.5h1M1317 640.5h3M771 643.5h1M879 643.5h3M958 643.5h2M1265 643.5h1M1335 643.5h3M196 609.5h2M453 609.5h3M459 609.5h3M465 609.5h1M975 654.5h2M1234 654.5h2M35 615.5h1M225 615.5h1M419 615.5h1M483 615.5h3M57 599.5h2M159 599.5h2M51 603.5h1M172 603.5h2M1006 674.5h1M1198 674.5h2M161 600.5h1M63 596.5h2M141 596.5h3M1091 722.5h1M1138 722.5h2M46 606.5h1M183 606.5h3M21 626.5h1M285 626.5h3M357 626.5h3M363 626.5h3M507 626.5h2M47 605.5h1M179 605.5h1M291 627.5h3M341 627.5h1M345 627.5h3M351 627.5h3M509 627.5h1M1239 652.5h2M15 631.5h1M519 631.5h2M1077 714.5h1M1150 714.5h1M123 591.5h3M970 650.5h1M1245 650.5h2M213 613.5h3M429 613.5h1M478 613.5h2M1203 671.5h2M10 633.5h2M525 633.5h3M1013 678.5h1M1191 678.5h1M1054 700.5h1M1030 687.5h2M1179 687.5h2M28 621.5h1M249 621.5h3M255 621.5h1M394 621.5h2M399 621.5h1M496 621.5h2M1055 701.5h1M29 620.5h1M243 620.5h3M400 620.5h2M495 620.5h1M585 639.5h3M591 639.5h3M652 639.5h2M657 639.5h3M741 639.5h3M898 639.5h2M951 639.5h1M1281 639.5h3M1311 639.5h3M1041 693.5h1M1173 693.5h1M39 612.5h1M209 612.5h1M430 612.5h2M477 612.5h1M521 632.5h1M238 619.5h2M405 619.5h3M1083 718.5h2M34 616.5h1M226 616.5h2M417 616.5h2M1125 728.5h2M1157 708.5h1M94 588.5h2M99 588.5h3M105 588.5h2M65 595.5h1M136 595.5h2M1053 699.5h1M1085 719.5h1M1144 719.5h2M1101 727.5h3M1127 727.5h1M1000 670.5h2M1205 670.5h1M971 651.5h1M1241 651.5h1M75 590.5h3M117 590.5h3M537 635.5h3M543 635.5h3M1107 729.5h1M1120 729.5h2M1222 660.5h1M52 602.5h2M171 602.5h1M1042 694.5h2M1035 690.5h2M45 607.5h1M189 607.5h2M69 593.5h2M129 593.5h3M33 617.5h1M231 617.5h3M412 617.5h2M489 617.5h1M1108 730.5h2M1113 730.5h3M1119 730.5h1M977 655.5h1M1233 655.5h1M165 601.5h3M1037 691.5h1M1175 691.5h1M1210 667.5h2M1071 710.5h2M1155 710.5h1M1097 725.5h1M1132 725.5h2M17 629.5h1M514 629.5h2M9 634.5h1M531 634.5h3M1023 683.5h2M1017 680.5h2M1185 682.5h2M988 662.5h2M1143 720.5h1M1019 681.5h1M1187 681.5h1M1011 677.5h2M1192 677.5h2M177 604.5h2M1007 675.5h1M1197 675.5h1M59 598.5h1M153 598.5h3M1066 707.5h2M1059 703.5h2M1162 703.5h1M981 658.5h1M1095 724.5h2M1089 721.5h2M147 597.5h3M999 669.5h1M191 608.5h1M195 608.5h1M1047 696.5h1M16 630.5h1M1048 697.5h2M1168 697.5h2M1029 686.5h1M1181 686.5h1M1061 704.5h1M1161 704.5h1M1137 723.5h1M995 666.5h1M1156 709.5h1M1073 711.5h1M994 665.5h1M1078 715.5h2M1149 715.5h1M1163 702.5h1M1229 656.5h1M1065 706.5h1M987 661.5h1M1221 661.5h1M1005 673.5h1M1217 663.5h1M1167 698.5h1M1151 713.5h1M1209 668.5h1M1174 692.5h1M1131 726.5h1M969 649.5h1M1247 649.5h1M71 592.5h1M135 594.5h1M1025 684.5h1" fill="none" stroke="#ff0000" stroke-width="1"/>
<text x="1608" y="585.9" font-size="9.8px" fill="#000" class="ax">2.3888</text>
<rect x="1605" y="642" width="3" height="1" fill="#000"/>
<text x="1608" y="644.9" font-size="9.8px" fill="#000" class="ax">0.00</text>
<text x="1608" y="740.9" font-size="9.8px" fill="#000" class="ax">-3.7419</text>
<text x="1.5" y="588" font-size="10px" class="ax">MACD(12,26,9) -0.1266 -0.1907</text>
<line x1="-2" y1="783.5" x2="1604" y2="783.5" stroke="#c0c0c0" stroke-width="1" stroke-dasharray="3 3"/>
<line x1="-2" y1="834.5" x2="1604" y2="834.5" stroke="#c0c0c0" stroke-width="1" stroke-dasharray="3 3"/>
<line x1="-2" y1="895.5" x2="1604" y2="895.5" stroke="#c0c0c0" stroke-width="1" stroke-dasharray="3 3"/>
<path d="M922.5 837v2M1035.5 871v2M1103.5 862v2M546.5 828v2M1031.5 878v2M169.5 818v2M67.5 807v2M267.5 832v2M1354.5 829v3M264.5 826v2M397.5 799v2M579.5 839v2M906.5 825v2M697.5 831v2M241.5 815v2M1351.5 837v3M936.5 859v3M772.5 837v2M406.5 778v3M412.5 795v3M902.5 816v2M920.5 834v2M526.5 830v2M924.5 840v2M347.5 806v2M567.5 844v2M551.5 837v2M532.5 822v2M1288.5 841v2M266.5 830v2M1063.5 880v2M1036.5 869v2M937.5 862v3M407.5 781v3M346.5 808v2M941.5 873v2M411.5 792v3M300.5 813v2M759.5 838v2M262.5 822v2M400.5 790v3M901.5 814v2M296.5 819v2M908.5 829v2M425.5 802v2M345.5 810v2M1290.5 844v2M1287.5 839v2M1363.5 833v2M967.5 869v2M572.5 834v2M762.5 845v3M398.5 796v3M649.5 824v2M705.5 841v2M1034.5 873v2M1076.5 874v2M403.5 781v3M1030.5 880v2M571.5 836v2M909.5 831v2M1129.5 834v2M268.5 834v2M52.5 801v2M409.5 787v2M1075.5 876v2M401.5 787v3M431.5 811v2M413.5 798v2M768.5 846v2M1071.5 884v2M63.5 802v2M761.5 843v2M570.5 838v2M1349.5 842v2M972.5 859v2M566.5 846v2M1357.5 822v2M548.5 832v2M1361.5 829v2M767.5 848v2M1070.5 886v2M269.5 836v2M931.5 849v2M51.5 799v2M681.5 823v2M1.5 798v2M1104.5 860v2M408.5 784v3M971.5 861v2M342.5 816v2M437.5 824v2M4.5 794v2M904.5 820v2M550.5 835v2M1359.5 825v2M966.5 871v2M918.5 831v2M542.5 821v2M261.5 820v2M903.5 818v2M1107.5 854v2M1350.5 840v2M757.5 834v2M764.5 850v2M700.5 835v2M1106.5 856v2M282.5 824v2M1102.5 864v2M278.5 830v2M263.5 824v2M1353.5 832v2M927.5 844v2M771.5 839v2M433.5 815v3M1291.5 846v2M763.5 848v2M1352.5 834v3M770.5 841v2M349.5 802v2M410.5 789v3M402.5 784v3M769.5 843v3M432.5 813v2M575.5 834v2M973.5 857v2M348.5 804v2M552.5 839v2M1358.5 823v2M833.5 830v2M405.5 776v2M938.5 865v3M544.5 825v2M1121.5 843v2M217.5 818v2M343.5 814v2M905.5 822v3M404.5 778v3M1032.5 876v2M554.5 842v2M1360.5 827v2M873.5 825v2M1074.5 878v2M573.5 832v2M933.5 852v2M569.5 840v2M543.5 823v2M1073.5 880v2M1356.5 824v2M766.5 850v2M568.5 842v2M556.5 846v2M970.5 863v2M435.5 820v2M758.5 836v2M583.5 839v2M294.5 822v2M969.5 865v2M1101.5 866v2M434.5 818v2M968.5 867v2M529.5 826v2M1292.5 848v2M940.5 870v3M1072.5 882v2M399.5 793v3M694.5 827v2M1286.5 837v2M344.5 812v2M1362.5 831v2M298.5 816v2M935.5 857v2M773.5 835v2M939.5 868v2M449.5 832v2M47.5 793v2M1067.5 885v2M153.5 810v2M430.5 809v2M555.5 844v2M760.5 840v3M1109.5 850v2M934.5 854v3M547.5 830v2M46.5 791v2M265.5 828v2M49.5 796v2M361.5 802v2M1108.5 852v2M280.5 827v2M587.5 834v2M1355.5 826v3M436.5 822v2M765.5 852v2M1364.5 835v2M1105.5 858v2M907.5 827v2M284.5 821v2M429.5 807v2M113.5 808v2M448 831.5h1M504 831.5h1M523 831.5h2M591 831.5h4M607 831.5h4M623 831.5h4M860 831.5h1M863 831.5h4M911 831.5h4M1132 831.5h1M1134 831.5h2M1206 831.5h1M1266 831.5h2M1273 831.5h5M281 826.5h1M439 826.5h2M509 826.5h9M639 826.5h1M650 826.5h1M679 826.5h1M693 826.5h1M837 826.5h4M847 826.5h4M854 826.5h1M1213 826.5h4M1231 826.5h4M1238 826.5h2M1249 826.5h2M69 810.5h12M114 810.5h1M124 810.5h5M137 810.5h5M312 810.5h2M320 810.5h2M892 810.5h1M894 810.5h2M65 805.5h1M103 805.5h4M110 805.5h1M363 805.5h1M377 805.5h13M427 805.5h1M115 811.5h1M121 811.5h3M129 811.5h8M236 811.5h2M310 811.5h2M322 811.5h2M891 811.5h1M896 811.5h1M66 806.5h1M97 806.5h6M111 806.5h1M148 806.5h2M364 806.5h1M369 806.5h8M428 806.5h1M470 839.5h1M496 839.5h1M703 839.5h1M741 839.5h1M787 839.5h2M818 839.5h1M923 839.5h1M1125 839.5h1M1161 839.5h3M1166 839.5h1M1181 839.5h9M277 832.5h1M503 832.5h1M525 832.5h1M589 832.5h2M611 832.5h12M749 832.5h2M832 832.5h1M861 832.5h2M910 832.5h1M1131 832.5h1M1136 832.5h2M1204 832.5h2M1268 832.5h5M1278 832.5h2M272 835.5h1M451 835.5h1M500 835.5h1M745 835.5h2M774 835.5h3M782 835.5h1M827 835.5h3M1145 835.5h6M1171 835.5h1M1175 835.5h2M1196 835.5h3M1283 835.5h2M477 844.5h2M488 844.5h2M707 844.5h1M713 844.5h3M719 844.5h4M736 844.5h1M793 844.5h2M811 844.5h2M1308 844.5h2M1324 844.5h3M1338 844.5h2M1343 844.5h4M116 812.5h1M119 812.5h2M154 812.5h1M233 812.5h3M238 812.5h1M301 812.5h9M324 812.5h2M889 812.5h2M897 812.5h2M354 799.5h2M358 799.5h1M414 799.5h3M422 799.5h1M279 829.5h1M446 829.5h1M506 829.5h1M521 829.5h1M527 829.5h1M631 829.5h4M653 829.5h12M671 829.5h4M695 829.5h1M834 829.5h1M857 829.5h2M870 829.5h1M1209 829.5h1M1262 829.5h2M483 846.5h3M709 846.5h2M727 846.5h4M734 846.5h1M796 846.5h1M809 846.5h1M928 846.5h1M1119 846.5h1M1303 846.5h2M1312 846.5h2M1320 846.5h2M117 813.5h2M155 813.5h1M231 813.5h2M239 813.5h1M326 813.5h1M888 813.5h1M899 813.5h2M184 818.5h2M195 818.5h4M243 818.5h1M297 818.5h1M332 818.5h1M337 818.5h5M881 818.5h2M170 820.5h1M180 820.5h2M201 820.5h3M216 820.5h1M245 820.5h4M257 820.5h4M285 820.5h1M537 820.5h5M645 820.5h1M684 820.5h1M686 820.5h1M878 820.5h2M171 821.5h1M177 821.5h3M204 821.5h3M215 821.5h1M249 821.5h8M286 821.5h2M295 821.5h1M533 821.5h4M644 821.5h1M646 821.5h1M683 821.5h1M687 821.5h1M877 821.5h1M23 789.5h4M30 789.5h1M557 848.5h9M799 848.5h4M806 848.5h1M930 848.5h1M1115 848.5h3M1297 848.5h3M1316 848.5h2M447 830.5h1M505 830.5h1M522 830.5h1M595 830.5h12M627 830.5h4M665 830.5h6M696 830.5h1M859 830.5h1M867 830.5h3M915 830.5h3M1133 830.5h1M1207 830.5h2M1264 830.5h2M87 808.5h4M144 808.5h2M151 808.5h1M316 808.5h2M955 868.5h1M959 868.5h1M991 868.5h2M1013 868.5h1M1037 868.5h1M1085 868.5h4M1095 868.5h4M7 792.5h4M34 792.5h1M40 792.5h2M91 807.5h6M112 807.5h1M146 807.5h2M150 807.5h1M365 807.5h4M11 791.5h6M33 791.5h1M42 791.5h2M0 800.5h1M60 800.5h2M352 800.5h2M359 800.5h1M423 800.5h1M803 849.5h3M1111 849.5h4M1295 849.5h2M479 845.5h4M486 845.5h2M708 845.5h1M711 845.5h2M723 845.5h4M735 845.5h1M795 845.5h1M810 845.5h1M1120 845.5h1M1305 845.5h3M1310 845.5h2M1322 845.5h2M1340 845.5h3M438 825.5h1M530 825.5h1M640 825.5h1M680 825.5h1M692 825.5h1M851 825.5h3M1217 825.5h14M1240 825.5h2M1248 825.5h1M167 816.5h1M188 816.5h3M219 816.5h1M329 816.5h2M885 816.5h1M453 837.5h4M463 837.5h4M498 837.5h1M577 837.5h1M585 837.5h1M701 837.5h1M743 837.5h1M785 837.5h1M821 837.5h2M1127 837.5h1M1155 837.5h4M1168 837.5h1M1178 837.5h1M1192 837.5h2M1365 837.5h1M473 841.5h1M494 841.5h1M553 841.5h1M580 841.5h1M582 841.5h1M739 841.5h1M790 841.5h1M815 841.5h2M1123 841.5h1M1332 841.5h2M275 833.5h2M502 833.5h1M574 833.5h1M588 833.5h1M698 833.5h1M748 833.5h1M751 833.5h4M831 833.5h1M919 833.5h1M1130 833.5h1M1138 833.5h2M1173 833.5h1M1201 833.5h3M1280 833.5h1M1003 875.5h2M1006 875.5h1M1022 875.5h1M1033 875.5h1M1049 875.5h1M37 794.5h1M168 817.5h1M186 817.5h2M191 817.5h4M218 817.5h1M242 817.5h1M331 817.5h1M883 817.5h2M1025 878.5h1M1053 878.5h9M1068 887.5h1M942 874.5h8M1002 874.5h1M1007 874.5h1M1021 874.5h1M1047 874.5h2M444 828.5h2M507 828.5h1M519 828.5h2M528 828.5h1M635 828.5h3M652 828.5h1M675 828.5h3M835 828.5h1M856 828.5h1M871 828.5h1M1210 828.5h1M1253 828.5h9M273 834.5h2M450 834.5h1M501 834.5h1M549 834.5h1M699 834.5h1M747 834.5h1M755 834.5h2M777 834.5h5M830 834.5h1M1140 834.5h5M1172 834.5h1M1174 834.5h1M1199 834.5h2M1281 834.5h2M731 847.5h3M797 847.5h2M807 847.5h2M929 847.5h1M1118 847.5h1M1300 847.5h3M1314 847.5h2M1318 847.5h2M1069 888.5h1M441 827.5h3M508 827.5h1M518 827.5h1M545 827.5h1M638 827.5h1M651 827.5h1M678 827.5h1M836 827.5h1M841 827.5h6M855 827.5h1M872 827.5h1M1211 827.5h2M1235 827.5h3M1251 827.5h2M182 819.5h2M199 819.5h2M244 819.5h1M333 819.5h4M685 819.5h1M880 819.5h1M270 836.5h2M452 836.5h1M457 836.5h6M499 836.5h1M576 836.5h1M586 836.5h1M744 836.5h1M783 836.5h2M823 836.5h4M921 836.5h1M1128 836.5h1M1151 836.5h4M1169 836.5h2M1177 836.5h1M1194 836.5h2M1285 836.5h1M17 790.5h6M31 790.5h2M44 790.5h2M956 867.5h1M958 867.5h1M988 867.5h3M1099 867.5h2M50 798.5h1M356 798.5h2M417 798.5h5M173 823.5h2M211 823.5h3M283 823.5h1M290 823.5h2M642 823.5h1M648 823.5h1M689 823.5h2M875 823.5h1M1244 823.5h2M55 802.5h2M393 802.5h2M3 796.5h1M954 869.5h1M960 869.5h1M993 869.5h3M1012 869.5h1M1014 869.5h1M1038 869.5h2M1083 869.5h2M1089 869.5h6M471 840.5h2M495 840.5h1M704 840.5h1M740 840.5h1M789 840.5h1M817 840.5h1M1124 840.5h1M1164 840.5h2M950 873.5h1M965 873.5h1M1001 873.5h1M1008 873.5h1M1019 873.5h2M1046 873.5h1M1077 873.5h1M68 809.5h1M81 809.5h6M142 809.5h2M152 809.5h1M314 809.5h2M318 809.5h2M893 809.5h1M467 838.5h3M497 838.5h1M578 838.5h1M584 838.5h1M702 838.5h1M742 838.5h1M786 838.5h1M819 838.5h2M1126 838.5h1M1159 838.5h2M1167 838.5h1M1179 838.5h2M1190 838.5h2M64 804.5h1M107 804.5h3M362 804.5h1M390 804.5h2M426 804.5h1M474 842.5h1M492 842.5h2M581 842.5h1M738 842.5h1M791 842.5h1M814 842.5h1M925 842.5h1M1122 842.5h1M1329 842.5h3M1334 842.5h2M156 814.5h1M161 814.5h5M221 814.5h10M240 814.5h1M327 814.5h1M887 814.5h1M951 872.5h1M964 872.5h1M999 872.5h2M1009 872.5h1M1018 872.5h1M1044 872.5h2M1078 872.5h2M475 843.5h2M490 843.5h2M706 843.5h1M716 843.5h3M737 843.5h1M792 843.5h1M813 843.5h1M926 843.5h1M1289 843.5h1M1327 843.5h2M1336 843.5h2M1347 843.5h2M953 870.5h1M961 870.5h2M996 870.5h2M1011 870.5h1M1015 870.5h2M1040 870.5h2M1081 870.5h2M979 862.5h2M981 863.5h1M172 822.5h1M175 822.5h2M207 822.5h4M214 822.5h1M288 822.5h2M643 822.5h1M647 822.5h1M682 822.5h1M688 822.5h1M876 822.5h1M1026 879.5h1M1062 879.5h1M157 815.5h4M166 815.5h1M220 815.5h1M299 815.5h1M328 815.5h1M886 815.5h1M57 801.5h3M62 801.5h1M350 801.5h2M360 801.5h1M395 801.5h2M424 801.5h1M1110 850.5h1M1293 850.5h2M292 824.5h2M531 824.5h1M641 824.5h1M691 824.5h1M874 824.5h1M1242 824.5h2M1246 824.5h2M27 788.5h3M1024 877.5h1M1051 877.5h2M952 871.5h1M963 871.5h1M998 871.5h1M1010 871.5h1M1017 871.5h1M1042 871.5h2M1080 871.5h1M975 859.5h2M53 803.5h2M392 803.5h1M5 793.5h2M35 793.5h2M38 793.5h2M1005 876.5h1M1023 876.5h1M1050 876.5h1M1028 881.5h1M982 864.5h2M984 865.5h2M1027 880.5h1M957 866.5h1M986 866.5h2M978 861.5h1M2 797.5h1M974 858.5h1M977 860.5h1M1029 882.5h1M1064 882.5h1M932 851.5h1M48 795.5h1M1066 884.5h1M1065 883.5h1" fill="none" stroke="#1e90ff" stroke-width="1"/>
<text x="1608" y="757.9" font-size="9.8px" fill="#000" class="ax">100</text>
<text x="1608" y="786.9" font-size="9.8px" fill="#000" class="ax">80</text>
<text x="1608" y="836.9" font-size="9.8px" fill="#000" class="ax">50</text>
<text x="1608" y="897.9" font-size="9.8px" fill="#000" class="ax">15</text>
<text x="1608" y="917.9" font-size="9.8px" fill="#000" class="ax">0</text>
<text x="1.5" y="759.8" font-size="9.8px" class="ax">RSI(14) 48.6521</text>
<text x="-3.5" y="933.2" font-size="9.9px" class="ax">14 Oct 2019</text>
<rect x="61" y="921" width="1" height="4" fill="#000"/>
<text x="60.5" y="933.2" font-size="9.9px" class="ax">23 Oct 2019</text>
<rect x="125" y="921" width="1" height="4" fill="#000"/>
<text x="124.5" y="933.2" font-size="9.9px" class="ax">1 Nov 2019</text>
<rect x="189" y="921" width="1" height="4" fill="#000"/>
<text x="188.5" y="933.2" font-size="9.9px" class="ax">11 Nov 2019</text>
<rect x="253" y="921" width="1" height="4" fill="#000"/>
<text x="252.5" y="933.2" font-size="9.9px" class="ax">20 Nov 2019</text>
<rect x="317" y="921" width="1" height="4" fill="#000"/>
<text x="316.5" y="933.2" font-size="9.9px" class="ax">29 Nov 2019</text>
<rect x="381" y="921" width="1" height="4" fill="#000"/>
<text x="380.5" y="933.2" font-size="9.9px" class="ax">9 Dec 2019</text>
<rect x="445" y="921" width="1" height="4" fill="#000"/>
<text x="444.5" y="933.2" font-size="9.9px" class="ax">18 Dec 2019</text>
<rect x="509" y="921" width="1" height="4" fill="#000"/>
<text x="508.5" y="933.2" font-size="9.9px" class="ax">27 Dec 2019</text>
<rect x="573" y="921" width="1" height="4" fill="#000"/>
<text x="572.5" y="933.2" font-size="9.9px" class="ax">6 Jan 2020</text>
<rect x="637" y="921" width="1" height="4" fill="#000"/>
<text x="636.5" y="933.2" font-size="9.9px" class="ax">15 Jan 2020</text>
<rect x="701" y="921" width="1" height="4" fill="#000"/>
<text x="700.5" y="933.2" font-size="9.9px" class="ax">24 Jan 2020</text>
<rect x="765" y="921" width="1" height="4" fill="#000"/>
<text x="764.5" y="933.2" font-size="9.9px" class="ax">3 Feb 2020</text>
<rect x="829" y="921" width="1" height="4" fill="#000"/>
<text x="828.5" y="933.2" font-size="9.9px" class="ax">12 Feb 2020</text>
<rect x="893" y="921" width="1" height="4" fill="#000"/>
<text x="892.5" y="933.2" font-size="9.9px" class="ax">21 Feb 2020</text>
<rect x="957" y="921" width="1" height="4" fill="#000"/>
<text x="956.5" y="933.2" font-size="9.9px" class="ax">2 Mar 2020</text>
<rect x="1021" y="921" width="1" height="4" fill="#000"/>
<text x="1020.5" y="933.2" font-size="9.9px" class="ax">11 Mar 2020</text>
<rect x="1085" y="921" width="1" height="4" fill="#000"/>
<text x="1084.5" y="933.2" font-size="9.9px" class="ax">20 Mar 2020</text>
<rect x="1149" y="921" width="1" height="4" fill="#000"/>
<text x="1148.5" y="933.2" font-size="9.9px" class="ax">30 Mar 2020</text>
<rect x="1213" y="921" width="1" height="4" fill="#000"/>
<text x="1212.5" y="933.2" font-size="9.9px" class="ax">8 Apr 2020</text>
<rect x="1277" y="921" width="1" height="4" fill="#000"/>
<text x="1276.5" y="933.2" font-size="9.9px" class="ax">19 Apr 2020</text>
<rect x="1341" y="921" width="1" height="4" fill="#000"/>
<text x="1340.5" y="933.2" font-size="9.9px" class="ax">28 Apr 2020</text>
<polygon points="0,32 7,32 3.5,27.5" fill="#000" shape-rendering="auto"/>
<text x="12" y="31.8" font-size="9.8px" class="ax">GBPJPY-,Daily</text>
<text x="81.4" y="31.8" font-size="9.8px" class="ax">134.952 135.066 133.354 133.401</text>
</svg>
<div id="cn">多空转折点</div>
<div id="pn">
<div class="rb" style="left:0"></div><div class="rt" style="left:0">SELL</div>
<div style="left:1px;top:24px;width:50px;height:1px;background:#e33434"></div>
<div class="ul" style="left:4px"></div>
<div class="rb" style="left:111px;width:108px"></div><div class="rt" style="left:167px">BUY</div>
<div style="left:168px;top:24px;width:50px;height:1px;background:#e33434"></div>
<div class="ul" style="left:171px"></div>
<div class="s3" style="left:23px;color:#fff;top:44px">133</div><div class="bg" style="left:47px;color:#fff;top:26px">40</div><div class="sp" style="left:87px;color:#fff;top:28px">1</div>
<div class="s3" style="left:133.5px;color:#fff;top:44px">133</div><div class="bg" style="left:158px;color:#fff;top:26px">43</div><div class="sp" style="left:198px;color:#fff;top:28px">7</div>
<svg width="6" height="6" style="left:7px;top:47px;position:absolute" viewBox="0 0 6 6"><path d="M3 1.3 L4.7 3 L3 4.7 L1.3 3 Z" fill="none" stroke="#40e8e8" stroke-width="0.9"/></svg>
<div id="vol"><div class="vb" style="left:1px"></div><div class="vs" style="left:21px"></div><div id="vt">1.00</div><div class="vs" style="left:89px"></div><div class="vb" style="left:90px"></div>
<svg width="110" height="20" style="position:absolute;left:0;top:0" viewBox="0 0 110 20"><path d="M8 8.5 L13 8.5 L10.5 11.5 Z" fill="#4a64c8"/><path d="M97 11 L102 11 L99.5 8 Z" fill="#4a64c8"/></svg></div>
</div>

<div id="tb"><svg width="1651" height="17" viewBox="0 0 1651 17" style="position:absolute;left:0;top:0">
<defs>
<pattern id="chk" width="2" height="2" patternUnits="userSpaceOnUse"><rect width="2" height="2" fill="#f6f6f6"/><rect width="1" height="1" fill="#e6e6e6"/><rect x="1" y="1" width="1" height="1" fill="#e6e6e6"/></pattern>
<g id="dd"><path d="M0 0 L6 0 L3 3.2 Z" fill="#000"/></g>
<g id="axes"><path d="M2.5 0 V11.5 M0 9.5 H13" stroke="#404040" stroke-width="1" fill="none"/><path d="M11.5 8 L13.5 9.5 L11.5 11" stroke="#404040" fill="none" stroke-width="0.8"/></g>
<g id="grip"><path d="M0 0.5h3M0 2.5h3M0 4.5h3M0 6.5h3M0 8.5h3M0 10.5h3M0 12.5h3" stroke="#a8a8a8" stroke-width="1"/></g>
</defs>
<text x="-9" y="7" font-size="13px" fill="#000" font-family="'Liberation Sans','Noto Sans CJK SC',sans-serif">新订单</text>
<!-- gold book -->
<path d="M42 3 L50 -4 L58 3.5 L57.5 6 L50 12 L42.5 5.5 Z" fill="#c88a10"/>
<path d="M42 2.5 L50 -4 L58 3 L50 9.5 Z" fill="#f0c040"/>
<path d="M44 3 L50 8 L56.5 3" stroke="#fff0b0" stroke-width="0.8" fill="none"/>
<!-- cloud -->
<rect x="72.5" y="-3" width="10" height="8" fill="#2f86e0" stroke="#1f5fb0"/>
<rect x="76.5" y="-2" width="2.5" height="5" fill="#e8f2ff"/>
<path d="M72 12 C68.5 12 68.5 7.5 72 7.3 C72.5 4 77.5 3.8 78.5 6 C81 4.5 84 6 83.5 8 C87 8.2 86.5 12 83.5 12 Z" fill="#eef4fb" stroke="#6f8fc0" stroke-width="1"/>
<!-- signal -->
<circle cx="105.5" cy="3.5" r="7.5" fill="none" stroke="#9fc0e8" stroke-width="1.3"/>
<circle cx="105.5" cy="3.5" r="4.6" fill="none" stroke="#5f95d8" stroke-width="1.3"/>
<path d="M106 4 L106 11.5 A7.8 7.8 0 0 0 113.3 4 Z" fill="#58b858" opacity="0.85"/>
<circle cx="105.5" cy="3.5" r="1.8" fill="#2a6fd0"/>
<rect x="105.3" y="4" width="1.4" height="7.5" fill="#2f9a2f"/>
<!-- autotrade -->
<path d="M126 2 L140 2 L140 4 L135 11.5 L131 11.5 Z" fill="#f0c838" stroke="#c89818" stroke-width="0.8"/>
<ellipse cx="133" cy="1" rx="6.5" ry="2.6" fill="#58a8e8" stroke="#2f78c0" stroke-width="0.8"/>
<circle cx="137.3" cy="7.8" r="4.2" fill="#d82818"/>
<rect x="135.6" y="6.1" width="3.4" height="3.4" fill="#fff"/>
<text x="146.5" y="7" font-size="12px" fill="#000" font-family="'Liberation Sans','Noto Sans CJK SC',sans-serif">自动交易</text>
<rect x="201" y="0" width="1" height="16" fill="#b8b8b8"/>
<use href="#grip" x="205" y="0"/>
<!-- bar chart icon -->
<use href="#axes" x="217" y="0"/>
<path d="M223 6.5 H225.5 V0.5 H228" stroke="#18a018" stroke-width="1.4" fill="none"/>
<rect x="239" y="0" width="1" height="13" fill="#c8c8c8"/>
<!-- candle icon selected -->
<rect x="241" y="0" width="23" height="13" fill="url(#chk)"/>
<use href="#axes" x="245" y="0"/>
<rect x="251" y="-2" width="4.5" height="7.5" fill="#20b020" stroke="#0a700a" stroke-width="0.8"/><rect x="253" y="5" width="1" height="3" fill="#0a700a"/>
<!-- line icon -->
<use href="#axes" x="273" y="0"/>
<path d="M274 6.5 C277 1 281 -1 286 5.5" stroke="#208020" stroke-width="1.1" fill="none"/>
<rect x="296" y="0" width="1" height="13.5" fill="#a8a8a8"/>
<!-- zoom in -->
<path d="M314.5 6 L320 11.5" stroke="#c8a020" stroke-width="2.6" stroke-linecap="round"/><path d="M314.5 6 L320 11.5" stroke="#f0d870" stroke-width="1" stroke-linecap="round"/>
<circle cx="311" cy="2" r="5.2" fill="#cfe4f8" stroke="#4a86d0" stroke-width="1.3"/>
<path d="M308 2 H314 M311 -1 V5" stroke="#2060c0" stroke-width="1.6"/>
<!-- zoom out -->
<path d="M342.5 6 L348 11.5" stroke="#c8a020" stroke-width="2.6" stroke-linecap="round"/><path d="M342.5 6 L348 11.5" stroke="#f0d870" stroke-width="1" stroke-linecap="round"/>
<circle cx="339" cy="2" r="5.2" fill="#cfe4f8" stroke="#4a86d0" stroke-width="1.3"/>
<path d="M336 2 H342" stroke="#2060c0" stroke-width="1.6"/>
<!-- tile -->
<rect x="361" y="-3" width="7.5" height="6.5" fill="#58a838"/><rect x="369.5" y="-3" width="7.5" height="6.5" fill="#3870d8"/>
<rect x="361" y="4.5" width="7.5" height="7" fill="#3870d8"/><rect x="369.5" y="4.5" width="7.5" height="7" fill="#58a838"/>
<rect x="362.5" y="0" width="4.5" height="2.5" fill="#e8f4e0"/><rect x="371" y="0" width="4.5" height="2.5" fill="#e0ecff"/>
<rect x="362.5" y="7.5" width="4.5" height="3" fill="#e0ecff"/><rect x="371" y="7.5" width="4.5" height="3" fill="#e8f4e0"/>
<rect x="386" y="0" width="1" height="13.5" fill="#a8a8a8"/>
<!-- autoscroll -->
<rect x="391" y="0" width="25" height="13" fill="url(#chk)"/>
<use href="#axes" x="397" y="0"/>
<path d="M404.5 0 L408.5 3.2 L404.5 6.4 Z" fill="#fff" stroke="#18a018" stroke-width="1.1"/>
<rect x="419" y="0" width="1" height="13" fill="#c8c8c8"/>
<rect x="420" y="0" width="24" height="13" fill="url(#chk)"/>
<use href="#axes" x="425.5" y="0"/>
<rect x="433.5" y="0" width="1" height="7.5" fill="#2060c0"/>
<path d="M435 3.2 L439 3.2 M435 3.2 L437.2 1.2 M435 3.2 L437.2 5.2" stroke="#d03010" stroke-width="1.1" fill="none"/>
<rect x="448" y="0" width="1" height="13.5" fill="#a8a8a8"/>
<!-- new chart -->
<rect x="459" y="-2" width="10" height="11" fill="#fff" stroke="#808080" stroke-width="0.9"/>
<path d="M466 3 h4 v-0 M462.5 6.5 h4 v-3.5 h3.5 v3.5 h4 v3.5 h-4 v3.7 h-3.5 v-3.7 h-4 Z" fill="#28c028" stroke="#108010" stroke-width="0.7"/>
<use href="#dd" x="479.5" y="3"/>
<!-- clock -->
<circle cx="503.8" cy="3.8" r="6.8" fill="#f4f8ff" stroke="#2a68d0" stroke-width="2.6"/>
<path d="M503.8 -1 V3.8 H507" stroke="#606060" stroke-width="1" fill="none"/>
<use href="#dd" x="518.5" y="3"/>
<!-- indicators -->
<rect x="535.5" y="-3" width="15" height="13.5" fill="#fff" stroke="#3878d8" stroke-width="1.2"/>
<rect x="535.5" y="4.5" width="15" height="1" fill="#3878d8"/>
<path d="M537.5 3 L540 1.8 L543 2.6 L546 1 L549 1.4" stroke="#b03010" stroke-width="1" fill="none"/>
<path d="M537.5 8.5 L540 7 L543 8.5 L546 6.8 L549 8.2" stroke="#18a018" stroke-width="1" fill="none"/>
<use href="#dd" x="557.5" y="3"/>
<rect x="569" y="0" width="1" height="16" fill="#a8a8a8"/>
<use href="#grip" x="573" y="0"/>
<!-- cursor selected -->
<rect x="580" y="0" width="24" height="13" fill="url(#chk)"/>
<path d="M588 -3 L588 8.5 L590.6 6 L592.8 10.8 L594.6 10 L592.4 5.4 L596 5.2 Z" fill="#303030"/>
<!-- crosshair -->
<path d="M612 4.5 H627 M619.5 -2 V12" stroke="#404040" stroke-width="1" fill="none"/>
<rect x="636" y="0" width="1" height="13.5" fill="#a8a8a8"/>
<rect x="653" y="0" width="1" height="10.5" fill="#404040"/>
<rect x="676" y="4" width="12" height="1" fill="#404040"/>
<path d="M704 10.8 L715.5 -0.5" stroke="#404040" stroke-width="1.1"/>
<!-- channel -->
<path d="M730 6 L741 -3 M733 10 L745 0 M733 1 L736 9 M737 -1 L740 6 M741 -2 L743 3" stroke="#505050" stroke-width="1" fill="none"/>
<text x="740.5" y="12.6" font-size="6.5px" font-weight="bold" fill="#303030" font-family="'Liberation Sans',sans-serif">E</text>
<!-- fib -->
<path d="M759 0.5 H772 M759 4.5 H772 M759 8.5 H768" stroke="#404040" stroke-width="1" stroke-dasharray="1 1" fill="none"/>
<text x="768.6" y="12.6" font-size="6.5px" font-weight="bold" fill="#303030" font-family="'Liberation Sans',sans-serif">F</text>
<text x="789.5" y="8.5" font-size="13px" fill="#585858" font-family="'Liberation Sans',sans-serif">A</text>
<rect x="816.5" y="-3" width="11" height="13.5" fill="none" stroke="#404040" stroke-width="1" stroke-dasharray="1 1"/>
<text x="818.6" y="8.5" font-size="12px" fill="#505050" font-family="'Liberation Sans',sans-serif">T</text>
<!-- arrows -->
<path d="M843.5 0.5 L846.5 -2.5 L849.5 0.5 L846.5 3 Z" fill="#404040"/><path d="M846 4.5 L848.5 7 L853 1.5" stroke="#404040" stroke-width="1.4" fill="none"/>
<path d="M850 7.2 L853.2 4.4 L856.6 7.2 L853.2 10.2 Z" fill="#404040"/>
<use href="#dd" x="863.5" y="2.8"/>
<rect x="875" y="0" width="1" height="16" fill="#a8a8a8"/>
<use href="#grip" x="879" y="0"/>
<rect x="1054" y="0" width="25" height="13" fill="url(#chk)"/>
<rect x="1053" y="0" width="1" height="13" fill="#b8b8b8"/>
<g font-size="9.8px" fill="#383838" font-family="'Liberation Sans',sans-serif" letter-spacing="-0.3">
<text x="890.5" y="7.6">M1</text><text x="918.3" y="7.6">M5</text><text x="944.5" y="7.6">M15</text><text x="972.5" y="7.6">M30</text>
<text x="1003" y="7.6">H1</text><text x="1030" y="7.6">H4</text><text x="1058.5" y="7.6">D1</text><text x="1086" y="7.6">W1</text><text x="1113.5" y="7.6">MN</text></g>
<rect x="1136" y="0" width="1" height="16" fill="#b0b0b0"/>
<!-- right icons -->
<path d="M1603.9 4.7 L1599 9" stroke="#1a48c0" stroke-width="2.4" stroke-linecap="round"/>
<circle cx="1606.4" cy="1.6" r="4.1" fill="#f4f6ff" stroke="#2a62dc" stroke-width="1.3"/>
<path d="M1637 5.2 L1642.4 8 L1642 4.5 Z" fill="#606060"/>
<ellipse cx="1640.3" cy="1.6" rx="5.6" ry="4.6" fill="#eaeaf2" stroke="#8a8a8a" stroke-width="1"/>
<path d="M1626.6 7.5 L1627.4 10.8 L1631 8.6 Z" fill="#606060"/>
<ellipse cx="1630.2" cy="5.2" rx="5.4" ry="3.9" fill="#f6f6fa" stroke="#808080" stroke-width="1"/>
<ellipse cx="1630.6" cy="6.2" rx="3.6" ry="1.8" fill="#dcdce6"/>
</svg>
</div><div id="tbl1"></div><div id="tbl2"></div>
</body></html>
